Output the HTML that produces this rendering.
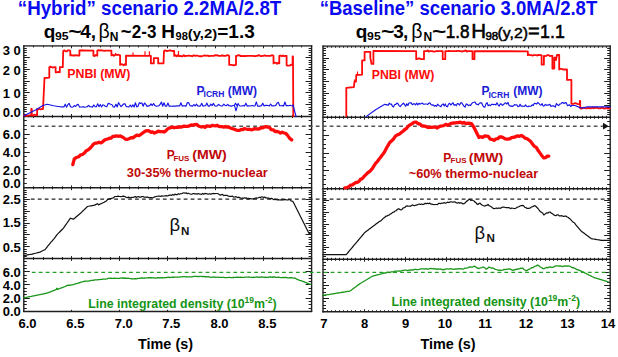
<!DOCTYPE html>
<html><head><meta charset="utf-8"><style>
html,body{margin:0;padding:0;background:#fff;}
svg{display:block;font-family:"Liberation Sans",sans-serif;}
</style></head><body>
<svg width="618" height="357" viewBox="0 0 618 357">
<rect width="618" height="357" fill="#fff"/>
<line x1="23.20" y1="45.90" x2="312.20" y2="45.90" stroke="#555" stroke-width="1.9" />
<line x1="23.20" y1="116.40" x2="312.20" y2="116.40" stroke="#1e1e1e" stroke-width="1.5" />
<line x1="23.20" y1="187.80" x2="312.20" y2="187.80" stroke="#1e1e1e" stroke-width="1.5" />
<line x1="23.20" y1="258.50" x2="312.20" y2="258.50" stroke="#1e1e1e" stroke-width="1.5" />
<line x1="23.20" y1="311.40" x2="312.20" y2="311.40" stroke="#1e1e1e" stroke-width="1.5" />
<line x1="23.80" y1="45.20" x2="23.80" y2="312.10" stroke="#1e1e1e" stroke-width="1.4" />
<line x1="311.60" y1="45.20" x2="311.60" y2="312.10" stroke="#1e1e1e" stroke-width="1.4" />
<line x1="33.50" y1="45.90" x2="33.50" y2="47.40" stroke="#1e1e1e" stroke-width="1" />
<line x1="43.50" y1="45.90" x2="43.50" y2="47.40" stroke="#1e1e1e" stroke-width="1" />
<line x1="52.50" y1="45.90" x2="52.50" y2="47.40" stroke="#1e1e1e" stroke-width="1" />
<line x1="62.50" y1="45.90" x2="62.50" y2="47.40" stroke="#1e1e1e" stroke-width="1" />
<line x1="71.50" y1="45.90" x2="71.50" y2="48.30" stroke="#1e1e1e" stroke-width="1" />
<line x1="81.50" y1="45.90" x2="81.50" y2="47.40" stroke="#1e1e1e" stroke-width="1" />
<line x1="90.50" y1="45.90" x2="90.50" y2="47.40" stroke="#1e1e1e" stroke-width="1" />
<line x1="100.50" y1="45.90" x2="100.50" y2="47.40" stroke="#1e1e1e" stroke-width="1" />
<line x1="110.50" y1="45.90" x2="110.50" y2="47.40" stroke="#1e1e1e" stroke-width="1" />
<line x1="119.50" y1="45.90" x2="119.50" y2="48.30" stroke="#1e1e1e" stroke-width="1" />
<line x1="129.50" y1="45.90" x2="129.50" y2="47.40" stroke="#1e1e1e" stroke-width="1" />
<line x1="138.50" y1="45.90" x2="138.50" y2="47.40" stroke="#1e1e1e" stroke-width="1" />
<line x1="148.50" y1="45.90" x2="148.50" y2="47.40" stroke="#1e1e1e" stroke-width="1" />
<line x1="158.50" y1="45.90" x2="158.50" y2="47.40" stroke="#1e1e1e" stroke-width="1" />
<line x1="167.50" y1="45.90" x2="167.50" y2="48.30" stroke="#1e1e1e" stroke-width="1" />
<line x1="177.50" y1="45.90" x2="177.50" y2="47.40" stroke="#1e1e1e" stroke-width="1" />
<line x1="186.50" y1="45.90" x2="186.50" y2="47.40" stroke="#1e1e1e" stroke-width="1" />
<line x1="196.50" y1="45.90" x2="196.50" y2="47.40" stroke="#1e1e1e" stroke-width="1" />
<line x1="205.50" y1="45.90" x2="205.50" y2="47.40" stroke="#1e1e1e" stroke-width="1" />
<line x1="215.50" y1="45.90" x2="215.50" y2="48.30" stroke="#1e1e1e" stroke-width="1" />
<line x1="225.50" y1="45.90" x2="225.50" y2="47.40" stroke="#1e1e1e" stroke-width="1" />
<line x1="234.50" y1="45.90" x2="234.50" y2="47.40" stroke="#1e1e1e" stroke-width="1" />
<line x1="244.50" y1="45.90" x2="244.50" y2="47.40" stroke="#1e1e1e" stroke-width="1" />
<line x1="253.50" y1="45.90" x2="253.50" y2="47.40" stroke="#1e1e1e" stroke-width="1" />
<line x1="263.50" y1="45.90" x2="263.50" y2="48.30" stroke="#1e1e1e" stroke-width="1" />
<line x1="272.50" y1="45.90" x2="272.50" y2="47.40" stroke="#1e1e1e" stroke-width="1" />
<line x1="282.50" y1="45.90" x2="282.50" y2="47.40" stroke="#1e1e1e" stroke-width="1" />
<line x1="292.50" y1="45.90" x2="292.50" y2="47.40" stroke="#1e1e1e" stroke-width="1" />
<line x1="301.50" y1="45.90" x2="301.50" y2="47.40" stroke="#1e1e1e" stroke-width="1" />
<line x1="33.50" y1="116.40" x2="33.50" y2="117.90" stroke="#1e1e1e" stroke-width="1" />
<line x1="33.50" y1="116.40" x2="33.50" y2="114.90" stroke="#1e1e1e" stroke-width="1" />
<line x1="43.50" y1="116.40" x2="43.50" y2="117.90" stroke="#1e1e1e" stroke-width="1" />
<line x1="43.50" y1="116.40" x2="43.50" y2="114.90" stroke="#1e1e1e" stroke-width="1" />
<line x1="52.50" y1="116.40" x2="52.50" y2="117.90" stroke="#1e1e1e" stroke-width="1" />
<line x1="52.50" y1="116.40" x2="52.50" y2="114.90" stroke="#1e1e1e" stroke-width="1" />
<line x1="62.50" y1="116.40" x2="62.50" y2="117.90" stroke="#1e1e1e" stroke-width="1" />
<line x1="62.50" y1="116.40" x2="62.50" y2="114.90" stroke="#1e1e1e" stroke-width="1" />
<line x1="71.50" y1="116.40" x2="71.50" y2="118.80" stroke="#1e1e1e" stroke-width="1" />
<line x1="71.50" y1="116.40" x2="71.50" y2="114.00" stroke="#1e1e1e" stroke-width="1" />
<line x1="81.50" y1="116.40" x2="81.50" y2="117.90" stroke="#1e1e1e" stroke-width="1" />
<line x1="81.50" y1="116.40" x2="81.50" y2="114.90" stroke="#1e1e1e" stroke-width="1" />
<line x1="90.50" y1="116.40" x2="90.50" y2="117.90" stroke="#1e1e1e" stroke-width="1" />
<line x1="90.50" y1="116.40" x2="90.50" y2="114.90" stroke="#1e1e1e" stroke-width="1" />
<line x1="100.50" y1="116.40" x2="100.50" y2="117.90" stroke="#1e1e1e" stroke-width="1" />
<line x1="100.50" y1="116.40" x2="100.50" y2="114.90" stroke="#1e1e1e" stroke-width="1" />
<line x1="110.50" y1="116.40" x2="110.50" y2="117.90" stroke="#1e1e1e" stroke-width="1" />
<line x1="110.50" y1="116.40" x2="110.50" y2="114.90" stroke="#1e1e1e" stroke-width="1" />
<line x1="119.50" y1="116.40" x2="119.50" y2="118.80" stroke="#1e1e1e" stroke-width="1" />
<line x1="119.50" y1="116.40" x2="119.50" y2="114.00" stroke="#1e1e1e" stroke-width="1" />
<line x1="129.50" y1="116.40" x2="129.50" y2="117.90" stroke="#1e1e1e" stroke-width="1" />
<line x1="129.50" y1="116.40" x2="129.50" y2="114.90" stroke="#1e1e1e" stroke-width="1" />
<line x1="138.50" y1="116.40" x2="138.50" y2="117.90" stroke="#1e1e1e" stroke-width="1" />
<line x1="138.50" y1="116.40" x2="138.50" y2="114.90" stroke="#1e1e1e" stroke-width="1" />
<line x1="148.50" y1="116.40" x2="148.50" y2="117.90" stroke="#1e1e1e" stroke-width="1" />
<line x1="148.50" y1="116.40" x2="148.50" y2="114.90" stroke="#1e1e1e" stroke-width="1" />
<line x1="158.50" y1="116.40" x2="158.50" y2="117.90" stroke="#1e1e1e" stroke-width="1" />
<line x1="158.50" y1="116.40" x2="158.50" y2="114.90" stroke="#1e1e1e" stroke-width="1" />
<line x1="167.50" y1="116.40" x2="167.50" y2="118.80" stroke="#1e1e1e" stroke-width="1" />
<line x1="167.50" y1="116.40" x2="167.50" y2="114.00" stroke="#1e1e1e" stroke-width="1" />
<line x1="177.50" y1="116.40" x2="177.50" y2="117.90" stroke="#1e1e1e" stroke-width="1" />
<line x1="177.50" y1="116.40" x2="177.50" y2="114.90" stroke="#1e1e1e" stroke-width="1" />
<line x1="186.50" y1="116.40" x2="186.50" y2="117.90" stroke="#1e1e1e" stroke-width="1" />
<line x1="186.50" y1="116.40" x2="186.50" y2="114.90" stroke="#1e1e1e" stroke-width="1" />
<line x1="196.50" y1="116.40" x2="196.50" y2="117.90" stroke="#1e1e1e" stroke-width="1" />
<line x1="196.50" y1="116.40" x2="196.50" y2="114.90" stroke="#1e1e1e" stroke-width="1" />
<line x1="205.50" y1="116.40" x2="205.50" y2="117.90" stroke="#1e1e1e" stroke-width="1" />
<line x1="205.50" y1="116.40" x2="205.50" y2="114.90" stroke="#1e1e1e" stroke-width="1" />
<line x1="215.50" y1="116.40" x2="215.50" y2="118.80" stroke="#1e1e1e" stroke-width="1" />
<line x1="215.50" y1="116.40" x2="215.50" y2="114.00" stroke="#1e1e1e" stroke-width="1" />
<line x1="225.50" y1="116.40" x2="225.50" y2="117.90" stroke="#1e1e1e" stroke-width="1" />
<line x1="225.50" y1="116.40" x2="225.50" y2="114.90" stroke="#1e1e1e" stroke-width="1" />
<line x1="234.50" y1="116.40" x2="234.50" y2="117.90" stroke="#1e1e1e" stroke-width="1" />
<line x1="234.50" y1="116.40" x2="234.50" y2="114.90" stroke="#1e1e1e" stroke-width="1" />
<line x1="244.50" y1="116.40" x2="244.50" y2="117.90" stroke="#1e1e1e" stroke-width="1" />
<line x1="244.50" y1="116.40" x2="244.50" y2="114.90" stroke="#1e1e1e" stroke-width="1" />
<line x1="253.50" y1="116.40" x2="253.50" y2="117.90" stroke="#1e1e1e" stroke-width="1" />
<line x1="253.50" y1="116.40" x2="253.50" y2="114.90" stroke="#1e1e1e" stroke-width="1" />
<line x1="263.50" y1="116.40" x2="263.50" y2="118.80" stroke="#1e1e1e" stroke-width="1" />
<line x1="263.50" y1="116.40" x2="263.50" y2="114.00" stroke="#1e1e1e" stroke-width="1" />
<line x1="272.50" y1="116.40" x2="272.50" y2="117.90" stroke="#1e1e1e" stroke-width="1" />
<line x1="272.50" y1="116.40" x2="272.50" y2="114.90" stroke="#1e1e1e" stroke-width="1" />
<line x1="282.50" y1="116.40" x2="282.50" y2="117.90" stroke="#1e1e1e" stroke-width="1" />
<line x1="282.50" y1="116.40" x2="282.50" y2="114.90" stroke="#1e1e1e" stroke-width="1" />
<line x1="292.50" y1="116.40" x2="292.50" y2="117.90" stroke="#1e1e1e" stroke-width="1" />
<line x1="292.50" y1="116.40" x2="292.50" y2="114.90" stroke="#1e1e1e" stroke-width="1" />
<line x1="301.50" y1="116.40" x2="301.50" y2="117.90" stroke="#1e1e1e" stroke-width="1" />
<line x1="301.50" y1="116.40" x2="301.50" y2="114.90" stroke="#1e1e1e" stroke-width="1" />
<line x1="33.50" y1="187.80" x2="33.50" y2="189.30" stroke="#1e1e1e" stroke-width="1" />
<line x1="33.50" y1="187.80" x2="33.50" y2="186.30" stroke="#1e1e1e" stroke-width="1" />
<line x1="43.50" y1="187.80" x2="43.50" y2="189.30" stroke="#1e1e1e" stroke-width="1" />
<line x1="43.50" y1="187.80" x2="43.50" y2="186.30" stroke="#1e1e1e" stroke-width="1" />
<line x1="52.50" y1="187.80" x2="52.50" y2="189.30" stroke="#1e1e1e" stroke-width="1" />
<line x1="52.50" y1="187.80" x2="52.50" y2="186.30" stroke="#1e1e1e" stroke-width="1" />
<line x1="62.50" y1="187.80" x2="62.50" y2="189.30" stroke="#1e1e1e" stroke-width="1" />
<line x1="62.50" y1="187.80" x2="62.50" y2="186.30" stroke="#1e1e1e" stroke-width="1" />
<line x1="71.50" y1="187.80" x2="71.50" y2="190.20" stroke="#1e1e1e" stroke-width="1" />
<line x1="71.50" y1="187.80" x2="71.50" y2="185.40" stroke="#1e1e1e" stroke-width="1" />
<line x1="81.50" y1="187.80" x2="81.50" y2="189.30" stroke="#1e1e1e" stroke-width="1" />
<line x1="81.50" y1="187.80" x2="81.50" y2="186.30" stroke="#1e1e1e" stroke-width="1" />
<line x1="90.50" y1="187.80" x2="90.50" y2="189.30" stroke="#1e1e1e" stroke-width="1" />
<line x1="90.50" y1="187.80" x2="90.50" y2="186.30" stroke="#1e1e1e" stroke-width="1" />
<line x1="100.50" y1="187.80" x2="100.50" y2="189.30" stroke="#1e1e1e" stroke-width="1" />
<line x1="100.50" y1="187.80" x2="100.50" y2="186.30" stroke="#1e1e1e" stroke-width="1" />
<line x1="110.50" y1="187.80" x2="110.50" y2="189.30" stroke="#1e1e1e" stroke-width="1" />
<line x1="110.50" y1="187.80" x2="110.50" y2="186.30" stroke="#1e1e1e" stroke-width="1" />
<line x1="119.50" y1="187.80" x2="119.50" y2="190.20" stroke="#1e1e1e" stroke-width="1" />
<line x1="119.50" y1="187.80" x2="119.50" y2="185.40" stroke="#1e1e1e" stroke-width="1" />
<line x1="129.50" y1="187.80" x2="129.50" y2="189.30" stroke="#1e1e1e" stroke-width="1" />
<line x1="129.50" y1="187.80" x2="129.50" y2="186.30" stroke="#1e1e1e" stroke-width="1" />
<line x1="138.50" y1="187.80" x2="138.50" y2="189.30" stroke="#1e1e1e" stroke-width="1" />
<line x1="138.50" y1="187.80" x2="138.50" y2="186.30" stroke="#1e1e1e" stroke-width="1" />
<line x1="148.50" y1="187.80" x2="148.50" y2="189.30" stroke="#1e1e1e" stroke-width="1" />
<line x1="148.50" y1="187.80" x2="148.50" y2="186.30" stroke="#1e1e1e" stroke-width="1" />
<line x1="158.50" y1="187.80" x2="158.50" y2="189.30" stroke="#1e1e1e" stroke-width="1" />
<line x1="158.50" y1="187.80" x2="158.50" y2="186.30" stroke="#1e1e1e" stroke-width="1" />
<line x1="167.50" y1="187.80" x2="167.50" y2="190.20" stroke="#1e1e1e" stroke-width="1" />
<line x1="167.50" y1="187.80" x2="167.50" y2="185.40" stroke="#1e1e1e" stroke-width="1" />
<line x1="177.50" y1="187.80" x2="177.50" y2="189.30" stroke="#1e1e1e" stroke-width="1" />
<line x1="177.50" y1="187.80" x2="177.50" y2="186.30" stroke="#1e1e1e" stroke-width="1" />
<line x1="186.50" y1="187.80" x2="186.50" y2="189.30" stroke="#1e1e1e" stroke-width="1" />
<line x1="186.50" y1="187.80" x2="186.50" y2="186.30" stroke="#1e1e1e" stroke-width="1" />
<line x1="196.50" y1="187.80" x2="196.50" y2="189.30" stroke="#1e1e1e" stroke-width="1" />
<line x1="196.50" y1="187.80" x2="196.50" y2="186.30" stroke="#1e1e1e" stroke-width="1" />
<line x1="205.50" y1="187.80" x2="205.50" y2="189.30" stroke="#1e1e1e" stroke-width="1" />
<line x1="205.50" y1="187.80" x2="205.50" y2="186.30" stroke="#1e1e1e" stroke-width="1" />
<line x1="215.50" y1="187.80" x2="215.50" y2="190.20" stroke="#1e1e1e" stroke-width="1" />
<line x1="215.50" y1="187.80" x2="215.50" y2="185.40" stroke="#1e1e1e" stroke-width="1" />
<line x1="225.50" y1="187.80" x2="225.50" y2="189.30" stroke="#1e1e1e" stroke-width="1" />
<line x1="225.50" y1="187.80" x2="225.50" y2="186.30" stroke="#1e1e1e" stroke-width="1" />
<line x1="234.50" y1="187.80" x2="234.50" y2="189.30" stroke="#1e1e1e" stroke-width="1" />
<line x1="234.50" y1="187.80" x2="234.50" y2="186.30" stroke="#1e1e1e" stroke-width="1" />
<line x1="244.50" y1="187.80" x2="244.50" y2="189.30" stroke="#1e1e1e" stroke-width="1" />
<line x1="244.50" y1="187.80" x2="244.50" y2="186.30" stroke="#1e1e1e" stroke-width="1" />
<line x1="253.50" y1="187.80" x2="253.50" y2="189.30" stroke="#1e1e1e" stroke-width="1" />
<line x1="253.50" y1="187.80" x2="253.50" y2="186.30" stroke="#1e1e1e" stroke-width="1" />
<line x1="263.50" y1="187.80" x2="263.50" y2="190.20" stroke="#1e1e1e" stroke-width="1" />
<line x1="263.50" y1="187.80" x2="263.50" y2="185.40" stroke="#1e1e1e" stroke-width="1" />
<line x1="272.50" y1="187.80" x2="272.50" y2="189.30" stroke="#1e1e1e" stroke-width="1" />
<line x1="272.50" y1="187.80" x2="272.50" y2="186.30" stroke="#1e1e1e" stroke-width="1" />
<line x1="282.50" y1="187.80" x2="282.50" y2="189.30" stroke="#1e1e1e" stroke-width="1" />
<line x1="282.50" y1="187.80" x2="282.50" y2="186.30" stroke="#1e1e1e" stroke-width="1" />
<line x1="292.50" y1="187.80" x2="292.50" y2="189.30" stroke="#1e1e1e" stroke-width="1" />
<line x1="292.50" y1="187.80" x2="292.50" y2="186.30" stroke="#1e1e1e" stroke-width="1" />
<line x1="301.50" y1="187.80" x2="301.50" y2="189.30" stroke="#1e1e1e" stroke-width="1" />
<line x1="301.50" y1="187.80" x2="301.50" y2="186.30" stroke="#1e1e1e" stroke-width="1" />
<line x1="33.50" y1="258.50" x2="33.50" y2="260.00" stroke="#1e1e1e" stroke-width="1" />
<line x1="33.50" y1="258.50" x2="33.50" y2="257.00" stroke="#1e1e1e" stroke-width="1" />
<line x1="43.50" y1="258.50" x2="43.50" y2="260.00" stroke="#1e1e1e" stroke-width="1" />
<line x1="43.50" y1="258.50" x2="43.50" y2="257.00" stroke="#1e1e1e" stroke-width="1" />
<line x1="52.50" y1="258.50" x2="52.50" y2="260.00" stroke="#1e1e1e" stroke-width="1" />
<line x1="52.50" y1="258.50" x2="52.50" y2="257.00" stroke="#1e1e1e" stroke-width="1" />
<line x1="62.50" y1="258.50" x2="62.50" y2="260.00" stroke="#1e1e1e" stroke-width="1" />
<line x1="62.50" y1="258.50" x2="62.50" y2="257.00" stroke="#1e1e1e" stroke-width="1" />
<line x1="71.50" y1="258.50" x2="71.50" y2="260.90" stroke="#1e1e1e" stroke-width="1" />
<line x1="71.50" y1="258.50" x2="71.50" y2="256.10" stroke="#1e1e1e" stroke-width="1" />
<line x1="81.50" y1="258.50" x2="81.50" y2="260.00" stroke="#1e1e1e" stroke-width="1" />
<line x1="81.50" y1="258.50" x2="81.50" y2="257.00" stroke="#1e1e1e" stroke-width="1" />
<line x1="90.50" y1="258.50" x2="90.50" y2="260.00" stroke="#1e1e1e" stroke-width="1" />
<line x1="90.50" y1="258.50" x2="90.50" y2="257.00" stroke="#1e1e1e" stroke-width="1" />
<line x1="100.50" y1="258.50" x2="100.50" y2="260.00" stroke="#1e1e1e" stroke-width="1" />
<line x1="100.50" y1="258.50" x2="100.50" y2="257.00" stroke="#1e1e1e" stroke-width="1" />
<line x1="110.50" y1="258.50" x2="110.50" y2="260.00" stroke="#1e1e1e" stroke-width="1" />
<line x1="110.50" y1="258.50" x2="110.50" y2="257.00" stroke="#1e1e1e" stroke-width="1" />
<line x1="119.50" y1="258.50" x2="119.50" y2="260.90" stroke="#1e1e1e" stroke-width="1" />
<line x1="119.50" y1="258.50" x2="119.50" y2="256.10" stroke="#1e1e1e" stroke-width="1" />
<line x1="129.50" y1="258.50" x2="129.50" y2="260.00" stroke="#1e1e1e" stroke-width="1" />
<line x1="129.50" y1="258.50" x2="129.50" y2="257.00" stroke="#1e1e1e" stroke-width="1" />
<line x1="138.50" y1="258.50" x2="138.50" y2="260.00" stroke="#1e1e1e" stroke-width="1" />
<line x1="138.50" y1="258.50" x2="138.50" y2="257.00" stroke="#1e1e1e" stroke-width="1" />
<line x1="148.50" y1="258.50" x2="148.50" y2="260.00" stroke="#1e1e1e" stroke-width="1" />
<line x1="148.50" y1="258.50" x2="148.50" y2="257.00" stroke="#1e1e1e" stroke-width="1" />
<line x1="158.50" y1="258.50" x2="158.50" y2="260.00" stroke="#1e1e1e" stroke-width="1" />
<line x1="158.50" y1="258.50" x2="158.50" y2="257.00" stroke="#1e1e1e" stroke-width="1" />
<line x1="167.50" y1="258.50" x2="167.50" y2="260.90" stroke="#1e1e1e" stroke-width="1" />
<line x1="167.50" y1="258.50" x2="167.50" y2="256.10" stroke="#1e1e1e" stroke-width="1" />
<line x1="177.50" y1="258.50" x2="177.50" y2="260.00" stroke="#1e1e1e" stroke-width="1" />
<line x1="177.50" y1="258.50" x2="177.50" y2="257.00" stroke="#1e1e1e" stroke-width="1" />
<line x1="186.50" y1="258.50" x2="186.50" y2="260.00" stroke="#1e1e1e" stroke-width="1" />
<line x1="186.50" y1="258.50" x2="186.50" y2="257.00" stroke="#1e1e1e" stroke-width="1" />
<line x1="196.50" y1="258.50" x2="196.50" y2="260.00" stroke="#1e1e1e" stroke-width="1" />
<line x1="196.50" y1="258.50" x2="196.50" y2="257.00" stroke="#1e1e1e" stroke-width="1" />
<line x1="205.50" y1="258.50" x2="205.50" y2="260.00" stroke="#1e1e1e" stroke-width="1" />
<line x1="205.50" y1="258.50" x2="205.50" y2="257.00" stroke="#1e1e1e" stroke-width="1" />
<line x1="215.50" y1="258.50" x2="215.50" y2="260.90" stroke="#1e1e1e" stroke-width="1" />
<line x1="215.50" y1="258.50" x2="215.50" y2="256.10" stroke="#1e1e1e" stroke-width="1" />
<line x1="225.50" y1="258.50" x2="225.50" y2="260.00" stroke="#1e1e1e" stroke-width="1" />
<line x1="225.50" y1="258.50" x2="225.50" y2="257.00" stroke="#1e1e1e" stroke-width="1" />
<line x1="234.50" y1="258.50" x2="234.50" y2="260.00" stroke="#1e1e1e" stroke-width="1" />
<line x1="234.50" y1="258.50" x2="234.50" y2="257.00" stroke="#1e1e1e" stroke-width="1" />
<line x1="244.50" y1="258.50" x2="244.50" y2="260.00" stroke="#1e1e1e" stroke-width="1" />
<line x1="244.50" y1="258.50" x2="244.50" y2="257.00" stroke="#1e1e1e" stroke-width="1" />
<line x1="253.50" y1="258.50" x2="253.50" y2="260.00" stroke="#1e1e1e" stroke-width="1" />
<line x1="253.50" y1="258.50" x2="253.50" y2="257.00" stroke="#1e1e1e" stroke-width="1" />
<line x1="263.50" y1="258.50" x2="263.50" y2="260.90" stroke="#1e1e1e" stroke-width="1" />
<line x1="263.50" y1="258.50" x2="263.50" y2="256.10" stroke="#1e1e1e" stroke-width="1" />
<line x1="272.50" y1="258.50" x2="272.50" y2="260.00" stroke="#1e1e1e" stroke-width="1" />
<line x1="272.50" y1="258.50" x2="272.50" y2="257.00" stroke="#1e1e1e" stroke-width="1" />
<line x1="282.50" y1="258.50" x2="282.50" y2="260.00" stroke="#1e1e1e" stroke-width="1" />
<line x1="282.50" y1="258.50" x2="282.50" y2="257.00" stroke="#1e1e1e" stroke-width="1" />
<line x1="292.50" y1="258.50" x2="292.50" y2="260.00" stroke="#1e1e1e" stroke-width="1" />
<line x1="292.50" y1="258.50" x2="292.50" y2="257.00" stroke="#1e1e1e" stroke-width="1" />
<line x1="301.50" y1="258.50" x2="301.50" y2="260.00" stroke="#1e1e1e" stroke-width="1" />
<line x1="301.50" y1="258.50" x2="301.50" y2="257.00" stroke="#1e1e1e" stroke-width="1" />
<line x1="71.50" y1="311.40" x2="71.50" y2="309.80" stroke="#1e1e1e" stroke-width="1" />
<line x1="119.50" y1="311.40" x2="119.50" y2="309.80" stroke="#1e1e1e" stroke-width="1" />
<line x1="167.50" y1="311.40" x2="167.50" y2="309.80" stroke="#1e1e1e" stroke-width="1" />
<line x1="215.50" y1="311.40" x2="215.50" y2="309.80" stroke="#1e1e1e" stroke-width="1" />
<line x1="263.50" y1="311.40" x2="263.50" y2="309.80" stroke="#1e1e1e" stroke-width="1" />
<line x1="322.40" y1="46.20" x2="610.80" y2="46.20" stroke="#555" stroke-width="1.9" />
<line x1="322.40" y1="117.30" x2="610.80" y2="117.30" stroke="#1e1e1e" stroke-width="1.5" />
<line x1="322.40" y1="188.70" x2="610.80" y2="188.70" stroke="#1e1e1e" stroke-width="1.5" />
<line x1="322.40" y1="259.30" x2="610.80" y2="259.30" stroke="#1e1e1e" stroke-width="1.5" />
<line x1="322.40" y1="311.70" x2="610.80" y2="311.70" stroke="#1e1e1e" stroke-width="1.5" />
<line x1="323.00" y1="45.50" x2="323.00" y2="312.40" stroke="#1e1e1e" stroke-width="1.4" />
<line x1="610.20" y1="45.50" x2="610.20" y2="312.40" stroke="#1e1e1e" stroke-width="1.4" />
<line x1="327.50" y1="46.20" x2="327.50" y2="47.70" stroke="#1e1e1e" stroke-width="1" />
<line x1="331.50" y1="46.20" x2="331.50" y2="47.70" stroke="#1e1e1e" stroke-width="1" />
<line x1="335.50" y1="46.20" x2="335.50" y2="47.70" stroke="#1e1e1e" stroke-width="1" />
<line x1="339.50" y1="46.20" x2="339.50" y2="47.70" stroke="#1e1e1e" stroke-width="1" />
<line x1="343.50" y1="46.20" x2="343.50" y2="47.70" stroke="#1e1e1e" stroke-width="1" />
<line x1="347.50" y1="46.20" x2="347.50" y2="47.70" stroke="#1e1e1e" stroke-width="1" />
<line x1="351.50" y1="46.20" x2="351.50" y2="47.70" stroke="#1e1e1e" stroke-width="1" />
<line x1="355.50" y1="46.20" x2="355.50" y2="47.70" stroke="#1e1e1e" stroke-width="1" />
<line x1="360.50" y1="46.20" x2="360.50" y2="47.70" stroke="#1e1e1e" stroke-width="1" />
<line x1="364.50" y1="46.20" x2="364.50" y2="48.60" stroke="#1e1e1e" stroke-width="1" />
<line x1="368.50" y1="46.20" x2="368.50" y2="47.70" stroke="#1e1e1e" stroke-width="1" />
<line x1="372.50" y1="46.20" x2="372.50" y2="47.70" stroke="#1e1e1e" stroke-width="1" />
<line x1="376.50" y1="46.20" x2="376.50" y2="47.70" stroke="#1e1e1e" stroke-width="1" />
<line x1="380.50" y1="46.20" x2="380.50" y2="47.70" stroke="#1e1e1e" stroke-width="1" />
<line x1="384.50" y1="46.20" x2="384.50" y2="47.70" stroke="#1e1e1e" stroke-width="1" />
<line x1="388.50" y1="46.20" x2="388.50" y2="47.70" stroke="#1e1e1e" stroke-width="1" />
<line x1="392.50" y1="46.20" x2="392.50" y2="47.70" stroke="#1e1e1e" stroke-width="1" />
<line x1="397.50" y1="46.20" x2="397.50" y2="47.70" stroke="#1e1e1e" stroke-width="1" />
<line x1="401.50" y1="46.20" x2="401.50" y2="47.70" stroke="#1e1e1e" stroke-width="1" />
<line x1="405.50" y1="46.20" x2="405.50" y2="48.60" stroke="#1e1e1e" stroke-width="1" />
<line x1="409.50" y1="46.20" x2="409.50" y2="47.70" stroke="#1e1e1e" stroke-width="1" />
<line x1="413.50" y1="46.20" x2="413.50" y2="47.70" stroke="#1e1e1e" stroke-width="1" />
<line x1="417.50" y1="46.20" x2="417.50" y2="47.70" stroke="#1e1e1e" stroke-width="1" />
<line x1="421.50" y1="46.20" x2="421.50" y2="47.70" stroke="#1e1e1e" stroke-width="1" />
<line x1="425.50" y1="46.20" x2="425.50" y2="47.70" stroke="#1e1e1e" stroke-width="1" />
<line x1="429.50" y1="46.20" x2="429.50" y2="47.70" stroke="#1e1e1e" stroke-width="1" />
<line x1="434.50" y1="46.20" x2="434.50" y2="47.70" stroke="#1e1e1e" stroke-width="1" />
<line x1="438.50" y1="46.20" x2="438.50" y2="47.70" stroke="#1e1e1e" stroke-width="1" />
<line x1="442.50" y1="46.20" x2="442.50" y2="47.70" stroke="#1e1e1e" stroke-width="1" />
<line x1="446.50" y1="46.20" x2="446.50" y2="48.60" stroke="#1e1e1e" stroke-width="1" />
<line x1="450.50" y1="46.20" x2="450.50" y2="47.70" stroke="#1e1e1e" stroke-width="1" />
<line x1="454.50" y1="46.20" x2="454.50" y2="47.70" stroke="#1e1e1e" stroke-width="1" />
<line x1="458.50" y1="46.20" x2="458.50" y2="47.70" stroke="#1e1e1e" stroke-width="1" />
<line x1="462.50" y1="46.20" x2="462.50" y2="47.70" stroke="#1e1e1e" stroke-width="1" />
<line x1="466.50" y1="46.20" x2="466.50" y2="47.70" stroke="#1e1e1e" stroke-width="1" />
<line x1="471.50" y1="46.20" x2="471.50" y2="47.70" stroke="#1e1e1e" stroke-width="1" />
<line x1="475.50" y1="46.20" x2="475.50" y2="47.70" stroke="#1e1e1e" stroke-width="1" />
<line x1="479.50" y1="46.20" x2="479.50" y2="47.70" stroke="#1e1e1e" stroke-width="1" />
<line x1="483.50" y1="46.20" x2="483.50" y2="47.70" stroke="#1e1e1e" stroke-width="1" />
<line x1="487.50" y1="46.20" x2="487.50" y2="48.60" stroke="#1e1e1e" stroke-width="1" />
<line x1="491.50" y1="46.20" x2="491.50" y2="47.70" stroke="#1e1e1e" stroke-width="1" />
<line x1="495.50" y1="46.20" x2="495.50" y2="47.70" stroke="#1e1e1e" stroke-width="1" />
<line x1="499.50" y1="46.20" x2="499.50" y2="47.70" stroke="#1e1e1e" stroke-width="1" />
<line x1="503.50" y1="46.20" x2="503.50" y2="47.70" stroke="#1e1e1e" stroke-width="1" />
<line x1="508.50" y1="46.20" x2="508.50" y2="47.70" stroke="#1e1e1e" stroke-width="1" />
<line x1="512.50" y1="46.20" x2="512.50" y2="47.70" stroke="#1e1e1e" stroke-width="1" />
<line x1="516.50" y1="46.20" x2="516.50" y2="47.70" stroke="#1e1e1e" stroke-width="1" />
<line x1="520.50" y1="46.20" x2="520.50" y2="47.70" stroke="#1e1e1e" stroke-width="1" />
<line x1="524.50" y1="46.20" x2="524.50" y2="47.70" stroke="#1e1e1e" stroke-width="1" />
<line x1="528.50" y1="46.20" x2="528.50" y2="48.60" stroke="#1e1e1e" stroke-width="1" />
<line x1="532.50" y1="46.20" x2="532.50" y2="47.70" stroke="#1e1e1e" stroke-width="1" />
<line x1="536.50" y1="46.20" x2="536.50" y2="47.70" stroke="#1e1e1e" stroke-width="1" />
<line x1="540.50" y1="46.20" x2="540.50" y2="47.70" stroke="#1e1e1e" stroke-width="1" />
<line x1="545.50" y1="46.20" x2="545.50" y2="47.70" stroke="#1e1e1e" stroke-width="1" />
<line x1="549.50" y1="46.20" x2="549.50" y2="47.70" stroke="#1e1e1e" stroke-width="1" />
<line x1="553.50" y1="46.20" x2="553.50" y2="47.70" stroke="#1e1e1e" stroke-width="1" />
<line x1="557.50" y1="46.20" x2="557.50" y2="47.70" stroke="#1e1e1e" stroke-width="1" />
<line x1="561.50" y1="46.20" x2="561.50" y2="47.70" stroke="#1e1e1e" stroke-width="1" />
<line x1="565.50" y1="46.20" x2="565.50" y2="47.70" stroke="#1e1e1e" stroke-width="1" />
<line x1="569.50" y1="46.20" x2="569.50" y2="48.60" stroke="#1e1e1e" stroke-width="1" />
<line x1="573.50" y1="46.20" x2="573.50" y2="47.70" stroke="#1e1e1e" stroke-width="1" />
<line x1="577.50" y1="46.20" x2="577.50" y2="47.70" stroke="#1e1e1e" stroke-width="1" />
<line x1="582.50" y1="46.20" x2="582.50" y2="47.70" stroke="#1e1e1e" stroke-width="1" />
<line x1="586.50" y1="46.20" x2="586.50" y2="47.70" stroke="#1e1e1e" stroke-width="1" />
<line x1="590.50" y1="46.20" x2="590.50" y2="47.70" stroke="#1e1e1e" stroke-width="1" />
<line x1="594.50" y1="46.20" x2="594.50" y2="47.70" stroke="#1e1e1e" stroke-width="1" />
<line x1="598.50" y1="46.20" x2="598.50" y2="47.70" stroke="#1e1e1e" stroke-width="1" />
<line x1="602.50" y1="46.20" x2="602.50" y2="47.70" stroke="#1e1e1e" stroke-width="1" />
<line x1="606.50" y1="46.20" x2="606.50" y2="47.70" stroke="#1e1e1e" stroke-width="1" />
<line x1="327.50" y1="117.30" x2="327.50" y2="118.80" stroke="#1e1e1e" stroke-width="1" />
<line x1="327.50" y1="117.30" x2="327.50" y2="115.80" stroke="#1e1e1e" stroke-width="1" />
<line x1="331.50" y1="117.30" x2="331.50" y2="118.80" stroke="#1e1e1e" stroke-width="1" />
<line x1="331.50" y1="117.30" x2="331.50" y2="115.80" stroke="#1e1e1e" stroke-width="1" />
<line x1="335.50" y1="117.30" x2="335.50" y2="118.80" stroke="#1e1e1e" stroke-width="1" />
<line x1="335.50" y1="117.30" x2="335.50" y2="115.80" stroke="#1e1e1e" stroke-width="1" />
<line x1="339.50" y1="117.30" x2="339.50" y2="118.80" stroke="#1e1e1e" stroke-width="1" />
<line x1="339.50" y1="117.30" x2="339.50" y2="115.80" stroke="#1e1e1e" stroke-width="1" />
<line x1="343.50" y1="117.30" x2="343.50" y2="118.80" stroke="#1e1e1e" stroke-width="1" />
<line x1="343.50" y1="117.30" x2="343.50" y2="115.80" stroke="#1e1e1e" stroke-width="1" />
<line x1="347.50" y1="117.30" x2="347.50" y2="118.80" stroke="#1e1e1e" stroke-width="1" />
<line x1="347.50" y1="117.30" x2="347.50" y2="115.80" stroke="#1e1e1e" stroke-width="1" />
<line x1="351.50" y1="117.30" x2="351.50" y2="118.80" stroke="#1e1e1e" stroke-width="1" />
<line x1="351.50" y1="117.30" x2="351.50" y2="115.80" stroke="#1e1e1e" stroke-width="1" />
<line x1="355.50" y1="117.30" x2="355.50" y2="118.80" stroke="#1e1e1e" stroke-width="1" />
<line x1="355.50" y1="117.30" x2="355.50" y2="115.80" stroke="#1e1e1e" stroke-width="1" />
<line x1="360.50" y1="117.30" x2="360.50" y2="118.80" stroke="#1e1e1e" stroke-width="1" />
<line x1="360.50" y1="117.30" x2="360.50" y2="115.80" stroke="#1e1e1e" stroke-width="1" />
<line x1="364.50" y1="117.30" x2="364.50" y2="119.70" stroke="#1e1e1e" stroke-width="1" />
<line x1="364.50" y1="117.30" x2="364.50" y2="114.90" stroke="#1e1e1e" stroke-width="1" />
<line x1="368.50" y1="117.30" x2="368.50" y2="118.80" stroke="#1e1e1e" stroke-width="1" />
<line x1="368.50" y1="117.30" x2="368.50" y2="115.80" stroke="#1e1e1e" stroke-width="1" />
<line x1="372.50" y1="117.30" x2="372.50" y2="118.80" stroke="#1e1e1e" stroke-width="1" />
<line x1="372.50" y1="117.30" x2="372.50" y2="115.80" stroke="#1e1e1e" stroke-width="1" />
<line x1="376.50" y1="117.30" x2="376.50" y2="118.80" stroke="#1e1e1e" stroke-width="1" />
<line x1="376.50" y1="117.30" x2="376.50" y2="115.80" stroke="#1e1e1e" stroke-width="1" />
<line x1="380.50" y1="117.30" x2="380.50" y2="118.80" stroke="#1e1e1e" stroke-width="1" />
<line x1="380.50" y1="117.30" x2="380.50" y2="115.80" stroke="#1e1e1e" stroke-width="1" />
<line x1="384.50" y1="117.30" x2="384.50" y2="118.80" stroke="#1e1e1e" stroke-width="1" />
<line x1="384.50" y1="117.30" x2="384.50" y2="115.80" stroke="#1e1e1e" stroke-width="1" />
<line x1="388.50" y1="117.30" x2="388.50" y2="118.80" stroke="#1e1e1e" stroke-width="1" />
<line x1="388.50" y1="117.30" x2="388.50" y2="115.80" stroke="#1e1e1e" stroke-width="1" />
<line x1="392.50" y1="117.30" x2="392.50" y2="118.80" stroke="#1e1e1e" stroke-width="1" />
<line x1="392.50" y1="117.30" x2="392.50" y2="115.80" stroke="#1e1e1e" stroke-width="1" />
<line x1="397.50" y1="117.30" x2="397.50" y2="118.80" stroke="#1e1e1e" stroke-width="1" />
<line x1="397.50" y1="117.30" x2="397.50" y2="115.80" stroke="#1e1e1e" stroke-width="1" />
<line x1="401.50" y1="117.30" x2="401.50" y2="118.80" stroke="#1e1e1e" stroke-width="1" />
<line x1="401.50" y1="117.30" x2="401.50" y2="115.80" stroke="#1e1e1e" stroke-width="1" />
<line x1="405.50" y1="117.30" x2="405.50" y2="119.70" stroke="#1e1e1e" stroke-width="1" />
<line x1="405.50" y1="117.30" x2="405.50" y2="114.90" stroke="#1e1e1e" stroke-width="1" />
<line x1="409.50" y1="117.30" x2="409.50" y2="118.80" stroke="#1e1e1e" stroke-width="1" />
<line x1="409.50" y1="117.30" x2="409.50" y2="115.80" stroke="#1e1e1e" stroke-width="1" />
<line x1="413.50" y1="117.30" x2="413.50" y2="118.80" stroke="#1e1e1e" stroke-width="1" />
<line x1="413.50" y1="117.30" x2="413.50" y2="115.80" stroke="#1e1e1e" stroke-width="1" />
<line x1="417.50" y1="117.30" x2="417.50" y2="118.80" stroke="#1e1e1e" stroke-width="1" />
<line x1="417.50" y1="117.30" x2="417.50" y2="115.80" stroke="#1e1e1e" stroke-width="1" />
<line x1="421.50" y1="117.30" x2="421.50" y2="118.80" stroke="#1e1e1e" stroke-width="1" />
<line x1="421.50" y1="117.30" x2="421.50" y2="115.80" stroke="#1e1e1e" stroke-width="1" />
<line x1="425.50" y1="117.30" x2="425.50" y2="118.80" stroke="#1e1e1e" stroke-width="1" />
<line x1="425.50" y1="117.30" x2="425.50" y2="115.80" stroke="#1e1e1e" stroke-width="1" />
<line x1="429.50" y1="117.30" x2="429.50" y2="118.80" stroke="#1e1e1e" stroke-width="1" />
<line x1="429.50" y1="117.30" x2="429.50" y2="115.80" stroke="#1e1e1e" stroke-width="1" />
<line x1="434.50" y1="117.30" x2="434.50" y2="118.80" stroke="#1e1e1e" stroke-width="1" />
<line x1="434.50" y1="117.30" x2="434.50" y2="115.80" stroke="#1e1e1e" stroke-width="1" />
<line x1="438.50" y1="117.30" x2="438.50" y2="118.80" stroke="#1e1e1e" stroke-width="1" />
<line x1="438.50" y1="117.30" x2="438.50" y2="115.80" stroke="#1e1e1e" stroke-width="1" />
<line x1="442.50" y1="117.30" x2="442.50" y2="118.80" stroke="#1e1e1e" stroke-width="1" />
<line x1="442.50" y1="117.30" x2="442.50" y2="115.80" stroke="#1e1e1e" stroke-width="1" />
<line x1="446.50" y1="117.30" x2="446.50" y2="119.70" stroke="#1e1e1e" stroke-width="1" />
<line x1="446.50" y1="117.30" x2="446.50" y2="114.90" stroke="#1e1e1e" stroke-width="1" />
<line x1="450.50" y1="117.30" x2="450.50" y2="118.80" stroke="#1e1e1e" stroke-width="1" />
<line x1="450.50" y1="117.30" x2="450.50" y2="115.80" stroke="#1e1e1e" stroke-width="1" />
<line x1="454.50" y1="117.30" x2="454.50" y2="118.80" stroke="#1e1e1e" stroke-width="1" />
<line x1="454.50" y1="117.30" x2="454.50" y2="115.80" stroke="#1e1e1e" stroke-width="1" />
<line x1="458.50" y1="117.30" x2="458.50" y2="118.80" stroke="#1e1e1e" stroke-width="1" />
<line x1="458.50" y1="117.30" x2="458.50" y2="115.80" stroke="#1e1e1e" stroke-width="1" />
<line x1="462.50" y1="117.30" x2="462.50" y2="118.80" stroke="#1e1e1e" stroke-width="1" />
<line x1="462.50" y1="117.30" x2="462.50" y2="115.80" stroke="#1e1e1e" stroke-width="1" />
<line x1="466.50" y1="117.30" x2="466.50" y2="118.80" stroke="#1e1e1e" stroke-width="1" />
<line x1="466.50" y1="117.30" x2="466.50" y2="115.80" stroke="#1e1e1e" stroke-width="1" />
<line x1="471.50" y1="117.30" x2="471.50" y2="118.80" stroke="#1e1e1e" stroke-width="1" />
<line x1="471.50" y1="117.30" x2="471.50" y2="115.80" stroke="#1e1e1e" stroke-width="1" />
<line x1="475.50" y1="117.30" x2="475.50" y2="118.80" stroke="#1e1e1e" stroke-width="1" />
<line x1="475.50" y1="117.30" x2="475.50" y2="115.80" stroke="#1e1e1e" stroke-width="1" />
<line x1="479.50" y1="117.30" x2="479.50" y2="118.80" stroke="#1e1e1e" stroke-width="1" />
<line x1="479.50" y1="117.30" x2="479.50" y2="115.80" stroke="#1e1e1e" stroke-width="1" />
<line x1="483.50" y1="117.30" x2="483.50" y2="118.80" stroke="#1e1e1e" stroke-width="1" />
<line x1="483.50" y1="117.30" x2="483.50" y2="115.80" stroke="#1e1e1e" stroke-width="1" />
<line x1="487.50" y1="117.30" x2="487.50" y2="119.70" stroke="#1e1e1e" stroke-width="1" />
<line x1="487.50" y1="117.30" x2="487.50" y2="114.90" stroke="#1e1e1e" stroke-width="1" />
<line x1="491.50" y1="117.30" x2="491.50" y2="118.80" stroke="#1e1e1e" stroke-width="1" />
<line x1="491.50" y1="117.30" x2="491.50" y2="115.80" stroke="#1e1e1e" stroke-width="1" />
<line x1="495.50" y1="117.30" x2="495.50" y2="118.80" stroke="#1e1e1e" stroke-width="1" />
<line x1="495.50" y1="117.30" x2="495.50" y2="115.80" stroke="#1e1e1e" stroke-width="1" />
<line x1="499.50" y1="117.30" x2="499.50" y2="118.80" stroke="#1e1e1e" stroke-width="1" />
<line x1="499.50" y1="117.30" x2="499.50" y2="115.80" stroke="#1e1e1e" stroke-width="1" />
<line x1="503.50" y1="117.30" x2="503.50" y2="118.80" stroke="#1e1e1e" stroke-width="1" />
<line x1="503.50" y1="117.30" x2="503.50" y2="115.80" stroke="#1e1e1e" stroke-width="1" />
<line x1="508.50" y1="117.30" x2="508.50" y2="118.80" stroke="#1e1e1e" stroke-width="1" />
<line x1="508.50" y1="117.30" x2="508.50" y2="115.80" stroke="#1e1e1e" stroke-width="1" />
<line x1="512.50" y1="117.30" x2="512.50" y2="118.80" stroke="#1e1e1e" stroke-width="1" />
<line x1="512.50" y1="117.30" x2="512.50" y2="115.80" stroke="#1e1e1e" stroke-width="1" />
<line x1="516.50" y1="117.30" x2="516.50" y2="118.80" stroke="#1e1e1e" stroke-width="1" />
<line x1="516.50" y1="117.30" x2="516.50" y2="115.80" stroke="#1e1e1e" stroke-width="1" />
<line x1="520.50" y1="117.30" x2="520.50" y2="118.80" stroke="#1e1e1e" stroke-width="1" />
<line x1="520.50" y1="117.30" x2="520.50" y2="115.80" stroke="#1e1e1e" stroke-width="1" />
<line x1="524.50" y1="117.30" x2="524.50" y2="118.80" stroke="#1e1e1e" stroke-width="1" />
<line x1="524.50" y1="117.30" x2="524.50" y2="115.80" stroke="#1e1e1e" stroke-width="1" />
<line x1="528.50" y1="117.30" x2="528.50" y2="119.70" stroke="#1e1e1e" stroke-width="1" />
<line x1="528.50" y1="117.30" x2="528.50" y2="114.90" stroke="#1e1e1e" stroke-width="1" />
<line x1="532.50" y1="117.30" x2="532.50" y2="118.80" stroke="#1e1e1e" stroke-width="1" />
<line x1="532.50" y1="117.30" x2="532.50" y2="115.80" stroke="#1e1e1e" stroke-width="1" />
<line x1="536.50" y1="117.30" x2="536.50" y2="118.80" stroke="#1e1e1e" stroke-width="1" />
<line x1="536.50" y1="117.30" x2="536.50" y2="115.80" stroke="#1e1e1e" stroke-width="1" />
<line x1="540.50" y1="117.30" x2="540.50" y2="118.80" stroke="#1e1e1e" stroke-width="1" />
<line x1="540.50" y1="117.30" x2="540.50" y2="115.80" stroke="#1e1e1e" stroke-width="1" />
<line x1="545.50" y1="117.30" x2="545.50" y2="118.80" stroke="#1e1e1e" stroke-width="1" />
<line x1="545.50" y1="117.30" x2="545.50" y2="115.80" stroke="#1e1e1e" stroke-width="1" />
<line x1="549.50" y1="117.30" x2="549.50" y2="118.80" stroke="#1e1e1e" stroke-width="1" />
<line x1="549.50" y1="117.30" x2="549.50" y2="115.80" stroke="#1e1e1e" stroke-width="1" />
<line x1="553.50" y1="117.30" x2="553.50" y2="118.80" stroke="#1e1e1e" stroke-width="1" />
<line x1="553.50" y1="117.30" x2="553.50" y2="115.80" stroke="#1e1e1e" stroke-width="1" />
<line x1="557.50" y1="117.30" x2="557.50" y2="118.80" stroke="#1e1e1e" stroke-width="1" />
<line x1="557.50" y1="117.30" x2="557.50" y2="115.80" stroke="#1e1e1e" stroke-width="1" />
<line x1="561.50" y1="117.30" x2="561.50" y2="118.80" stroke="#1e1e1e" stroke-width="1" />
<line x1="561.50" y1="117.30" x2="561.50" y2="115.80" stroke="#1e1e1e" stroke-width="1" />
<line x1="565.50" y1="117.30" x2="565.50" y2="118.80" stroke="#1e1e1e" stroke-width="1" />
<line x1="565.50" y1="117.30" x2="565.50" y2="115.80" stroke="#1e1e1e" stroke-width="1" />
<line x1="569.50" y1="117.30" x2="569.50" y2="119.70" stroke="#1e1e1e" stroke-width="1" />
<line x1="569.50" y1="117.30" x2="569.50" y2="114.90" stroke="#1e1e1e" stroke-width="1" />
<line x1="573.50" y1="117.30" x2="573.50" y2="118.80" stroke="#1e1e1e" stroke-width="1" />
<line x1="573.50" y1="117.30" x2="573.50" y2="115.80" stroke="#1e1e1e" stroke-width="1" />
<line x1="577.50" y1="117.30" x2="577.50" y2="118.80" stroke="#1e1e1e" stroke-width="1" />
<line x1="577.50" y1="117.30" x2="577.50" y2="115.80" stroke="#1e1e1e" stroke-width="1" />
<line x1="582.50" y1="117.30" x2="582.50" y2="118.80" stroke="#1e1e1e" stroke-width="1" />
<line x1="582.50" y1="117.30" x2="582.50" y2="115.80" stroke="#1e1e1e" stroke-width="1" />
<line x1="586.50" y1="117.30" x2="586.50" y2="118.80" stroke="#1e1e1e" stroke-width="1" />
<line x1="586.50" y1="117.30" x2="586.50" y2="115.80" stroke="#1e1e1e" stroke-width="1" />
<line x1="590.50" y1="117.30" x2="590.50" y2="118.80" stroke="#1e1e1e" stroke-width="1" />
<line x1="590.50" y1="117.30" x2="590.50" y2="115.80" stroke="#1e1e1e" stroke-width="1" />
<line x1="594.50" y1="117.30" x2="594.50" y2="118.80" stroke="#1e1e1e" stroke-width="1" />
<line x1="594.50" y1="117.30" x2="594.50" y2="115.80" stroke="#1e1e1e" stroke-width="1" />
<line x1="598.50" y1="117.30" x2="598.50" y2="118.80" stroke="#1e1e1e" stroke-width="1" />
<line x1="598.50" y1="117.30" x2="598.50" y2="115.80" stroke="#1e1e1e" stroke-width="1" />
<line x1="602.50" y1="117.30" x2="602.50" y2="118.80" stroke="#1e1e1e" stroke-width="1" />
<line x1="602.50" y1="117.30" x2="602.50" y2="115.80" stroke="#1e1e1e" stroke-width="1" />
<line x1="606.50" y1="117.30" x2="606.50" y2="118.80" stroke="#1e1e1e" stroke-width="1" />
<line x1="606.50" y1="117.30" x2="606.50" y2="115.80" stroke="#1e1e1e" stroke-width="1" />
<line x1="327.50" y1="188.70" x2="327.50" y2="190.20" stroke="#1e1e1e" stroke-width="1" />
<line x1="327.50" y1="188.70" x2="327.50" y2="187.20" stroke="#1e1e1e" stroke-width="1" />
<line x1="331.50" y1="188.70" x2="331.50" y2="190.20" stroke="#1e1e1e" stroke-width="1" />
<line x1="331.50" y1="188.70" x2="331.50" y2="187.20" stroke="#1e1e1e" stroke-width="1" />
<line x1="335.50" y1="188.70" x2="335.50" y2="190.20" stroke="#1e1e1e" stroke-width="1" />
<line x1="335.50" y1="188.70" x2="335.50" y2="187.20" stroke="#1e1e1e" stroke-width="1" />
<line x1="339.50" y1="188.70" x2="339.50" y2="190.20" stroke="#1e1e1e" stroke-width="1" />
<line x1="339.50" y1="188.70" x2="339.50" y2="187.20" stroke="#1e1e1e" stroke-width="1" />
<line x1="343.50" y1="188.70" x2="343.50" y2="190.20" stroke="#1e1e1e" stroke-width="1" />
<line x1="343.50" y1="188.70" x2="343.50" y2="187.20" stroke="#1e1e1e" stroke-width="1" />
<line x1="347.50" y1="188.70" x2="347.50" y2="190.20" stroke="#1e1e1e" stroke-width="1" />
<line x1="347.50" y1="188.70" x2="347.50" y2="187.20" stroke="#1e1e1e" stroke-width="1" />
<line x1="351.50" y1="188.70" x2="351.50" y2="190.20" stroke="#1e1e1e" stroke-width="1" />
<line x1="351.50" y1="188.70" x2="351.50" y2="187.20" stroke="#1e1e1e" stroke-width="1" />
<line x1="355.50" y1="188.70" x2="355.50" y2="190.20" stroke="#1e1e1e" stroke-width="1" />
<line x1="355.50" y1="188.70" x2="355.50" y2="187.20" stroke="#1e1e1e" stroke-width="1" />
<line x1="360.50" y1="188.70" x2="360.50" y2="190.20" stroke="#1e1e1e" stroke-width="1" />
<line x1="360.50" y1="188.70" x2="360.50" y2="187.20" stroke="#1e1e1e" stroke-width="1" />
<line x1="364.50" y1="188.70" x2="364.50" y2="191.10" stroke="#1e1e1e" stroke-width="1" />
<line x1="364.50" y1="188.70" x2="364.50" y2="186.30" stroke="#1e1e1e" stroke-width="1" />
<line x1="368.50" y1="188.70" x2="368.50" y2="190.20" stroke="#1e1e1e" stroke-width="1" />
<line x1="368.50" y1="188.70" x2="368.50" y2="187.20" stroke="#1e1e1e" stroke-width="1" />
<line x1="372.50" y1="188.70" x2="372.50" y2="190.20" stroke="#1e1e1e" stroke-width="1" />
<line x1="372.50" y1="188.70" x2="372.50" y2="187.20" stroke="#1e1e1e" stroke-width="1" />
<line x1="376.50" y1="188.70" x2="376.50" y2="190.20" stroke="#1e1e1e" stroke-width="1" />
<line x1="376.50" y1="188.70" x2="376.50" y2="187.20" stroke="#1e1e1e" stroke-width="1" />
<line x1="380.50" y1="188.70" x2="380.50" y2="190.20" stroke="#1e1e1e" stroke-width="1" />
<line x1="380.50" y1="188.70" x2="380.50" y2="187.20" stroke="#1e1e1e" stroke-width="1" />
<line x1="384.50" y1="188.70" x2="384.50" y2="190.20" stroke="#1e1e1e" stroke-width="1" />
<line x1="384.50" y1="188.70" x2="384.50" y2="187.20" stroke="#1e1e1e" stroke-width="1" />
<line x1="388.50" y1="188.70" x2="388.50" y2="190.20" stroke="#1e1e1e" stroke-width="1" />
<line x1="388.50" y1="188.70" x2="388.50" y2="187.20" stroke="#1e1e1e" stroke-width="1" />
<line x1="392.50" y1="188.70" x2="392.50" y2="190.20" stroke="#1e1e1e" stroke-width="1" />
<line x1="392.50" y1="188.70" x2="392.50" y2="187.20" stroke="#1e1e1e" stroke-width="1" />
<line x1="397.50" y1="188.70" x2="397.50" y2="190.20" stroke="#1e1e1e" stroke-width="1" />
<line x1="397.50" y1="188.70" x2="397.50" y2="187.20" stroke="#1e1e1e" stroke-width="1" />
<line x1="401.50" y1="188.70" x2="401.50" y2="190.20" stroke="#1e1e1e" stroke-width="1" />
<line x1="401.50" y1="188.70" x2="401.50" y2="187.20" stroke="#1e1e1e" stroke-width="1" />
<line x1="405.50" y1="188.70" x2="405.50" y2="191.10" stroke="#1e1e1e" stroke-width="1" />
<line x1="405.50" y1="188.70" x2="405.50" y2="186.30" stroke="#1e1e1e" stroke-width="1" />
<line x1="409.50" y1="188.70" x2="409.50" y2="190.20" stroke="#1e1e1e" stroke-width="1" />
<line x1="409.50" y1="188.70" x2="409.50" y2="187.20" stroke="#1e1e1e" stroke-width="1" />
<line x1="413.50" y1="188.70" x2="413.50" y2="190.20" stroke="#1e1e1e" stroke-width="1" />
<line x1="413.50" y1="188.70" x2="413.50" y2="187.20" stroke="#1e1e1e" stroke-width="1" />
<line x1="417.50" y1="188.70" x2="417.50" y2="190.20" stroke="#1e1e1e" stroke-width="1" />
<line x1="417.50" y1="188.70" x2="417.50" y2="187.20" stroke="#1e1e1e" stroke-width="1" />
<line x1="421.50" y1="188.70" x2="421.50" y2="190.20" stroke="#1e1e1e" stroke-width="1" />
<line x1="421.50" y1="188.70" x2="421.50" y2="187.20" stroke="#1e1e1e" stroke-width="1" />
<line x1="425.50" y1="188.70" x2="425.50" y2="190.20" stroke="#1e1e1e" stroke-width="1" />
<line x1="425.50" y1="188.70" x2="425.50" y2="187.20" stroke="#1e1e1e" stroke-width="1" />
<line x1="429.50" y1="188.70" x2="429.50" y2="190.20" stroke="#1e1e1e" stroke-width="1" />
<line x1="429.50" y1="188.70" x2="429.50" y2="187.20" stroke="#1e1e1e" stroke-width="1" />
<line x1="434.50" y1="188.70" x2="434.50" y2="190.20" stroke="#1e1e1e" stroke-width="1" />
<line x1="434.50" y1="188.70" x2="434.50" y2="187.20" stroke="#1e1e1e" stroke-width="1" />
<line x1="438.50" y1="188.70" x2="438.50" y2="190.20" stroke="#1e1e1e" stroke-width="1" />
<line x1="438.50" y1="188.70" x2="438.50" y2="187.20" stroke="#1e1e1e" stroke-width="1" />
<line x1="442.50" y1="188.70" x2="442.50" y2="190.20" stroke="#1e1e1e" stroke-width="1" />
<line x1="442.50" y1="188.70" x2="442.50" y2="187.20" stroke="#1e1e1e" stroke-width="1" />
<line x1="446.50" y1="188.70" x2="446.50" y2="191.10" stroke="#1e1e1e" stroke-width="1" />
<line x1="446.50" y1="188.70" x2="446.50" y2="186.30" stroke="#1e1e1e" stroke-width="1" />
<line x1="450.50" y1="188.70" x2="450.50" y2="190.20" stroke="#1e1e1e" stroke-width="1" />
<line x1="450.50" y1="188.70" x2="450.50" y2="187.20" stroke="#1e1e1e" stroke-width="1" />
<line x1="454.50" y1="188.70" x2="454.50" y2="190.20" stroke="#1e1e1e" stroke-width="1" />
<line x1="454.50" y1="188.70" x2="454.50" y2="187.20" stroke="#1e1e1e" stroke-width="1" />
<line x1="458.50" y1="188.70" x2="458.50" y2="190.20" stroke="#1e1e1e" stroke-width="1" />
<line x1="458.50" y1="188.70" x2="458.50" y2="187.20" stroke="#1e1e1e" stroke-width="1" />
<line x1="462.50" y1="188.70" x2="462.50" y2="190.20" stroke="#1e1e1e" stroke-width="1" />
<line x1="462.50" y1="188.70" x2="462.50" y2="187.20" stroke="#1e1e1e" stroke-width="1" />
<line x1="466.50" y1="188.70" x2="466.50" y2="190.20" stroke="#1e1e1e" stroke-width="1" />
<line x1="466.50" y1="188.70" x2="466.50" y2="187.20" stroke="#1e1e1e" stroke-width="1" />
<line x1="471.50" y1="188.70" x2="471.50" y2="190.20" stroke="#1e1e1e" stroke-width="1" />
<line x1="471.50" y1="188.70" x2="471.50" y2="187.20" stroke="#1e1e1e" stroke-width="1" />
<line x1="475.50" y1="188.70" x2="475.50" y2="190.20" stroke="#1e1e1e" stroke-width="1" />
<line x1="475.50" y1="188.70" x2="475.50" y2="187.20" stroke="#1e1e1e" stroke-width="1" />
<line x1="479.50" y1="188.70" x2="479.50" y2="190.20" stroke="#1e1e1e" stroke-width="1" />
<line x1="479.50" y1="188.70" x2="479.50" y2="187.20" stroke="#1e1e1e" stroke-width="1" />
<line x1="483.50" y1="188.70" x2="483.50" y2="190.20" stroke="#1e1e1e" stroke-width="1" />
<line x1="483.50" y1="188.70" x2="483.50" y2="187.20" stroke="#1e1e1e" stroke-width="1" />
<line x1="487.50" y1="188.70" x2="487.50" y2="191.10" stroke="#1e1e1e" stroke-width="1" />
<line x1="487.50" y1="188.70" x2="487.50" y2="186.30" stroke="#1e1e1e" stroke-width="1" />
<line x1="491.50" y1="188.70" x2="491.50" y2="190.20" stroke="#1e1e1e" stroke-width="1" />
<line x1="491.50" y1="188.70" x2="491.50" y2="187.20" stroke="#1e1e1e" stroke-width="1" />
<line x1="495.50" y1="188.70" x2="495.50" y2="190.20" stroke="#1e1e1e" stroke-width="1" />
<line x1="495.50" y1="188.70" x2="495.50" y2="187.20" stroke="#1e1e1e" stroke-width="1" />
<line x1="499.50" y1="188.70" x2="499.50" y2="190.20" stroke="#1e1e1e" stroke-width="1" />
<line x1="499.50" y1="188.70" x2="499.50" y2="187.20" stroke="#1e1e1e" stroke-width="1" />
<line x1="503.50" y1="188.70" x2="503.50" y2="190.20" stroke="#1e1e1e" stroke-width="1" />
<line x1="503.50" y1="188.70" x2="503.50" y2="187.20" stroke="#1e1e1e" stroke-width="1" />
<line x1="508.50" y1="188.70" x2="508.50" y2="190.20" stroke="#1e1e1e" stroke-width="1" />
<line x1="508.50" y1="188.70" x2="508.50" y2="187.20" stroke="#1e1e1e" stroke-width="1" />
<line x1="512.50" y1="188.70" x2="512.50" y2="190.20" stroke="#1e1e1e" stroke-width="1" />
<line x1="512.50" y1="188.70" x2="512.50" y2="187.20" stroke="#1e1e1e" stroke-width="1" />
<line x1="516.50" y1="188.70" x2="516.50" y2="190.20" stroke="#1e1e1e" stroke-width="1" />
<line x1="516.50" y1="188.70" x2="516.50" y2="187.20" stroke="#1e1e1e" stroke-width="1" />
<line x1="520.50" y1="188.70" x2="520.50" y2="190.20" stroke="#1e1e1e" stroke-width="1" />
<line x1="520.50" y1="188.70" x2="520.50" y2="187.20" stroke="#1e1e1e" stroke-width="1" />
<line x1="524.50" y1="188.70" x2="524.50" y2="190.20" stroke="#1e1e1e" stroke-width="1" />
<line x1="524.50" y1="188.70" x2="524.50" y2="187.20" stroke="#1e1e1e" stroke-width="1" />
<line x1="528.50" y1="188.70" x2="528.50" y2="191.10" stroke="#1e1e1e" stroke-width="1" />
<line x1="528.50" y1="188.70" x2="528.50" y2="186.30" stroke="#1e1e1e" stroke-width="1" />
<line x1="532.50" y1="188.70" x2="532.50" y2="190.20" stroke="#1e1e1e" stroke-width="1" />
<line x1="532.50" y1="188.70" x2="532.50" y2="187.20" stroke="#1e1e1e" stroke-width="1" />
<line x1="536.50" y1="188.70" x2="536.50" y2="190.20" stroke="#1e1e1e" stroke-width="1" />
<line x1="536.50" y1="188.70" x2="536.50" y2="187.20" stroke="#1e1e1e" stroke-width="1" />
<line x1="540.50" y1="188.70" x2="540.50" y2="190.20" stroke="#1e1e1e" stroke-width="1" />
<line x1="540.50" y1="188.70" x2="540.50" y2="187.20" stroke="#1e1e1e" stroke-width="1" />
<line x1="545.50" y1="188.70" x2="545.50" y2="190.20" stroke="#1e1e1e" stroke-width="1" />
<line x1="545.50" y1="188.70" x2="545.50" y2="187.20" stroke="#1e1e1e" stroke-width="1" />
<line x1="549.50" y1="188.70" x2="549.50" y2="190.20" stroke="#1e1e1e" stroke-width="1" />
<line x1="549.50" y1="188.70" x2="549.50" y2="187.20" stroke="#1e1e1e" stroke-width="1" />
<line x1="553.50" y1="188.70" x2="553.50" y2="190.20" stroke="#1e1e1e" stroke-width="1" />
<line x1="553.50" y1="188.70" x2="553.50" y2="187.20" stroke="#1e1e1e" stroke-width="1" />
<line x1="557.50" y1="188.70" x2="557.50" y2="190.20" stroke="#1e1e1e" stroke-width="1" />
<line x1="557.50" y1="188.70" x2="557.50" y2="187.20" stroke="#1e1e1e" stroke-width="1" />
<line x1="561.50" y1="188.70" x2="561.50" y2="190.20" stroke="#1e1e1e" stroke-width="1" />
<line x1="561.50" y1="188.70" x2="561.50" y2="187.20" stroke="#1e1e1e" stroke-width="1" />
<line x1="565.50" y1="188.70" x2="565.50" y2="190.20" stroke="#1e1e1e" stroke-width="1" />
<line x1="565.50" y1="188.70" x2="565.50" y2="187.20" stroke="#1e1e1e" stroke-width="1" />
<line x1="569.50" y1="188.70" x2="569.50" y2="191.10" stroke="#1e1e1e" stroke-width="1" />
<line x1="569.50" y1="188.70" x2="569.50" y2="186.30" stroke="#1e1e1e" stroke-width="1" />
<line x1="573.50" y1="188.70" x2="573.50" y2="190.20" stroke="#1e1e1e" stroke-width="1" />
<line x1="573.50" y1="188.70" x2="573.50" y2="187.20" stroke="#1e1e1e" stroke-width="1" />
<line x1="577.50" y1="188.70" x2="577.50" y2="190.20" stroke="#1e1e1e" stroke-width="1" />
<line x1="577.50" y1="188.70" x2="577.50" y2="187.20" stroke="#1e1e1e" stroke-width="1" />
<line x1="582.50" y1="188.70" x2="582.50" y2="190.20" stroke="#1e1e1e" stroke-width="1" />
<line x1="582.50" y1="188.70" x2="582.50" y2="187.20" stroke="#1e1e1e" stroke-width="1" />
<line x1="586.50" y1="188.70" x2="586.50" y2="190.20" stroke="#1e1e1e" stroke-width="1" />
<line x1="586.50" y1="188.70" x2="586.50" y2="187.20" stroke="#1e1e1e" stroke-width="1" />
<line x1="590.50" y1="188.70" x2="590.50" y2="190.20" stroke="#1e1e1e" stroke-width="1" />
<line x1="590.50" y1="188.70" x2="590.50" y2="187.20" stroke="#1e1e1e" stroke-width="1" />
<line x1="594.50" y1="188.70" x2="594.50" y2="190.20" stroke="#1e1e1e" stroke-width="1" />
<line x1="594.50" y1="188.70" x2="594.50" y2="187.20" stroke="#1e1e1e" stroke-width="1" />
<line x1="598.50" y1="188.70" x2="598.50" y2="190.20" stroke="#1e1e1e" stroke-width="1" />
<line x1="598.50" y1="188.70" x2="598.50" y2="187.20" stroke="#1e1e1e" stroke-width="1" />
<line x1="602.50" y1="188.70" x2="602.50" y2="190.20" stroke="#1e1e1e" stroke-width="1" />
<line x1="602.50" y1="188.70" x2="602.50" y2="187.20" stroke="#1e1e1e" stroke-width="1" />
<line x1="606.50" y1="188.70" x2="606.50" y2="190.20" stroke="#1e1e1e" stroke-width="1" />
<line x1="606.50" y1="188.70" x2="606.50" y2="187.20" stroke="#1e1e1e" stroke-width="1" />
<line x1="327.50" y1="259.30" x2="327.50" y2="260.80" stroke="#1e1e1e" stroke-width="1" />
<line x1="327.50" y1="259.30" x2="327.50" y2="257.80" stroke="#1e1e1e" stroke-width="1" />
<line x1="331.50" y1="259.30" x2="331.50" y2="260.80" stroke="#1e1e1e" stroke-width="1" />
<line x1="331.50" y1="259.30" x2="331.50" y2="257.80" stroke="#1e1e1e" stroke-width="1" />
<line x1="335.50" y1="259.30" x2="335.50" y2="260.80" stroke="#1e1e1e" stroke-width="1" />
<line x1="335.50" y1="259.30" x2="335.50" y2="257.80" stroke="#1e1e1e" stroke-width="1" />
<line x1="339.50" y1="259.30" x2="339.50" y2="260.80" stroke="#1e1e1e" stroke-width="1" />
<line x1="339.50" y1="259.30" x2="339.50" y2="257.80" stroke="#1e1e1e" stroke-width="1" />
<line x1="343.50" y1="259.30" x2="343.50" y2="260.80" stroke="#1e1e1e" stroke-width="1" />
<line x1="343.50" y1="259.30" x2="343.50" y2="257.80" stroke="#1e1e1e" stroke-width="1" />
<line x1="347.50" y1="259.30" x2="347.50" y2="260.80" stroke="#1e1e1e" stroke-width="1" />
<line x1="347.50" y1="259.30" x2="347.50" y2="257.80" stroke="#1e1e1e" stroke-width="1" />
<line x1="351.50" y1="259.30" x2="351.50" y2="260.80" stroke="#1e1e1e" stroke-width="1" />
<line x1="351.50" y1="259.30" x2="351.50" y2="257.80" stroke="#1e1e1e" stroke-width="1" />
<line x1="355.50" y1="259.30" x2="355.50" y2="260.80" stroke="#1e1e1e" stroke-width="1" />
<line x1="355.50" y1="259.30" x2="355.50" y2="257.80" stroke="#1e1e1e" stroke-width="1" />
<line x1="360.50" y1="259.30" x2="360.50" y2="260.80" stroke="#1e1e1e" stroke-width="1" />
<line x1="360.50" y1="259.30" x2="360.50" y2="257.80" stroke="#1e1e1e" stroke-width="1" />
<line x1="364.50" y1="259.30" x2="364.50" y2="261.70" stroke="#1e1e1e" stroke-width="1" />
<line x1="364.50" y1="259.30" x2="364.50" y2="256.90" stroke="#1e1e1e" stroke-width="1" />
<line x1="368.50" y1="259.30" x2="368.50" y2="260.80" stroke="#1e1e1e" stroke-width="1" />
<line x1="368.50" y1="259.30" x2="368.50" y2="257.80" stroke="#1e1e1e" stroke-width="1" />
<line x1="372.50" y1="259.30" x2="372.50" y2="260.80" stroke="#1e1e1e" stroke-width="1" />
<line x1="372.50" y1="259.30" x2="372.50" y2="257.80" stroke="#1e1e1e" stroke-width="1" />
<line x1="376.50" y1="259.30" x2="376.50" y2="260.80" stroke="#1e1e1e" stroke-width="1" />
<line x1="376.50" y1="259.30" x2="376.50" y2="257.80" stroke="#1e1e1e" stroke-width="1" />
<line x1="380.50" y1="259.30" x2="380.50" y2="260.80" stroke="#1e1e1e" stroke-width="1" />
<line x1="380.50" y1="259.30" x2="380.50" y2="257.80" stroke="#1e1e1e" stroke-width="1" />
<line x1="384.50" y1="259.30" x2="384.50" y2="260.80" stroke="#1e1e1e" stroke-width="1" />
<line x1="384.50" y1="259.30" x2="384.50" y2="257.80" stroke="#1e1e1e" stroke-width="1" />
<line x1="388.50" y1="259.30" x2="388.50" y2="260.80" stroke="#1e1e1e" stroke-width="1" />
<line x1="388.50" y1="259.30" x2="388.50" y2="257.80" stroke="#1e1e1e" stroke-width="1" />
<line x1="392.50" y1="259.30" x2="392.50" y2="260.80" stroke="#1e1e1e" stroke-width="1" />
<line x1="392.50" y1="259.30" x2="392.50" y2="257.80" stroke="#1e1e1e" stroke-width="1" />
<line x1="397.50" y1="259.30" x2="397.50" y2="260.80" stroke="#1e1e1e" stroke-width="1" />
<line x1="397.50" y1="259.30" x2="397.50" y2="257.80" stroke="#1e1e1e" stroke-width="1" />
<line x1="401.50" y1="259.30" x2="401.50" y2="260.80" stroke="#1e1e1e" stroke-width="1" />
<line x1="401.50" y1="259.30" x2="401.50" y2="257.80" stroke="#1e1e1e" stroke-width="1" />
<line x1="405.50" y1="259.30" x2="405.50" y2="261.70" stroke="#1e1e1e" stroke-width="1" />
<line x1="405.50" y1="259.30" x2="405.50" y2="256.90" stroke="#1e1e1e" stroke-width="1" />
<line x1="409.50" y1="259.30" x2="409.50" y2="260.80" stroke="#1e1e1e" stroke-width="1" />
<line x1="409.50" y1="259.30" x2="409.50" y2="257.80" stroke="#1e1e1e" stroke-width="1" />
<line x1="413.50" y1="259.30" x2="413.50" y2="260.80" stroke="#1e1e1e" stroke-width="1" />
<line x1="413.50" y1="259.30" x2="413.50" y2="257.80" stroke="#1e1e1e" stroke-width="1" />
<line x1="417.50" y1="259.30" x2="417.50" y2="260.80" stroke="#1e1e1e" stroke-width="1" />
<line x1="417.50" y1="259.30" x2="417.50" y2="257.80" stroke="#1e1e1e" stroke-width="1" />
<line x1="421.50" y1="259.30" x2="421.50" y2="260.80" stroke="#1e1e1e" stroke-width="1" />
<line x1="421.50" y1="259.30" x2="421.50" y2="257.80" stroke="#1e1e1e" stroke-width="1" />
<line x1="425.50" y1="259.30" x2="425.50" y2="260.80" stroke="#1e1e1e" stroke-width="1" />
<line x1="425.50" y1="259.30" x2="425.50" y2="257.80" stroke="#1e1e1e" stroke-width="1" />
<line x1="429.50" y1="259.30" x2="429.50" y2="260.80" stroke="#1e1e1e" stroke-width="1" />
<line x1="429.50" y1="259.30" x2="429.50" y2="257.80" stroke="#1e1e1e" stroke-width="1" />
<line x1="434.50" y1="259.30" x2="434.50" y2="260.80" stroke="#1e1e1e" stroke-width="1" />
<line x1="434.50" y1="259.30" x2="434.50" y2="257.80" stroke="#1e1e1e" stroke-width="1" />
<line x1="438.50" y1="259.30" x2="438.50" y2="260.80" stroke="#1e1e1e" stroke-width="1" />
<line x1="438.50" y1="259.30" x2="438.50" y2="257.80" stroke="#1e1e1e" stroke-width="1" />
<line x1="442.50" y1="259.30" x2="442.50" y2="260.80" stroke="#1e1e1e" stroke-width="1" />
<line x1="442.50" y1="259.30" x2="442.50" y2="257.80" stroke="#1e1e1e" stroke-width="1" />
<line x1="446.50" y1="259.30" x2="446.50" y2="261.70" stroke="#1e1e1e" stroke-width="1" />
<line x1="446.50" y1="259.30" x2="446.50" y2="256.90" stroke="#1e1e1e" stroke-width="1" />
<line x1="450.50" y1="259.30" x2="450.50" y2="260.80" stroke="#1e1e1e" stroke-width="1" />
<line x1="450.50" y1="259.30" x2="450.50" y2="257.80" stroke="#1e1e1e" stroke-width="1" />
<line x1="454.50" y1="259.30" x2="454.50" y2="260.80" stroke="#1e1e1e" stroke-width="1" />
<line x1="454.50" y1="259.30" x2="454.50" y2="257.80" stroke="#1e1e1e" stroke-width="1" />
<line x1="458.50" y1="259.30" x2="458.50" y2="260.80" stroke="#1e1e1e" stroke-width="1" />
<line x1="458.50" y1="259.30" x2="458.50" y2="257.80" stroke="#1e1e1e" stroke-width="1" />
<line x1="462.50" y1="259.30" x2="462.50" y2="260.80" stroke="#1e1e1e" stroke-width="1" />
<line x1="462.50" y1="259.30" x2="462.50" y2="257.80" stroke="#1e1e1e" stroke-width="1" />
<line x1="466.50" y1="259.30" x2="466.50" y2="260.80" stroke="#1e1e1e" stroke-width="1" />
<line x1="466.50" y1="259.30" x2="466.50" y2="257.80" stroke="#1e1e1e" stroke-width="1" />
<line x1="471.50" y1="259.30" x2="471.50" y2="260.80" stroke="#1e1e1e" stroke-width="1" />
<line x1="471.50" y1="259.30" x2="471.50" y2="257.80" stroke="#1e1e1e" stroke-width="1" />
<line x1="475.50" y1="259.30" x2="475.50" y2="260.80" stroke="#1e1e1e" stroke-width="1" />
<line x1="475.50" y1="259.30" x2="475.50" y2="257.80" stroke="#1e1e1e" stroke-width="1" />
<line x1="479.50" y1="259.30" x2="479.50" y2="260.80" stroke="#1e1e1e" stroke-width="1" />
<line x1="479.50" y1="259.30" x2="479.50" y2="257.80" stroke="#1e1e1e" stroke-width="1" />
<line x1="483.50" y1="259.30" x2="483.50" y2="260.80" stroke="#1e1e1e" stroke-width="1" />
<line x1="483.50" y1="259.30" x2="483.50" y2="257.80" stroke="#1e1e1e" stroke-width="1" />
<line x1="487.50" y1="259.30" x2="487.50" y2="261.70" stroke="#1e1e1e" stroke-width="1" />
<line x1="487.50" y1="259.30" x2="487.50" y2="256.90" stroke="#1e1e1e" stroke-width="1" />
<line x1="491.50" y1="259.30" x2="491.50" y2="260.80" stroke="#1e1e1e" stroke-width="1" />
<line x1="491.50" y1="259.30" x2="491.50" y2="257.80" stroke="#1e1e1e" stroke-width="1" />
<line x1="495.50" y1="259.30" x2="495.50" y2="260.80" stroke="#1e1e1e" stroke-width="1" />
<line x1="495.50" y1="259.30" x2="495.50" y2="257.80" stroke="#1e1e1e" stroke-width="1" />
<line x1="499.50" y1="259.30" x2="499.50" y2="260.80" stroke="#1e1e1e" stroke-width="1" />
<line x1="499.50" y1="259.30" x2="499.50" y2="257.80" stroke="#1e1e1e" stroke-width="1" />
<line x1="503.50" y1="259.30" x2="503.50" y2="260.80" stroke="#1e1e1e" stroke-width="1" />
<line x1="503.50" y1="259.30" x2="503.50" y2="257.80" stroke="#1e1e1e" stroke-width="1" />
<line x1="508.50" y1="259.30" x2="508.50" y2="260.80" stroke="#1e1e1e" stroke-width="1" />
<line x1="508.50" y1="259.30" x2="508.50" y2="257.80" stroke="#1e1e1e" stroke-width="1" />
<line x1="512.50" y1="259.30" x2="512.50" y2="260.80" stroke="#1e1e1e" stroke-width="1" />
<line x1="512.50" y1="259.30" x2="512.50" y2="257.80" stroke="#1e1e1e" stroke-width="1" />
<line x1="516.50" y1="259.30" x2="516.50" y2="260.80" stroke="#1e1e1e" stroke-width="1" />
<line x1="516.50" y1="259.30" x2="516.50" y2="257.80" stroke="#1e1e1e" stroke-width="1" />
<line x1="520.50" y1="259.30" x2="520.50" y2="260.80" stroke="#1e1e1e" stroke-width="1" />
<line x1="520.50" y1="259.30" x2="520.50" y2="257.80" stroke="#1e1e1e" stroke-width="1" />
<line x1="524.50" y1="259.30" x2="524.50" y2="260.80" stroke="#1e1e1e" stroke-width="1" />
<line x1="524.50" y1="259.30" x2="524.50" y2="257.80" stroke="#1e1e1e" stroke-width="1" />
<line x1="528.50" y1="259.30" x2="528.50" y2="261.70" stroke="#1e1e1e" stroke-width="1" />
<line x1="528.50" y1="259.30" x2="528.50" y2="256.90" stroke="#1e1e1e" stroke-width="1" />
<line x1="532.50" y1="259.30" x2="532.50" y2="260.80" stroke="#1e1e1e" stroke-width="1" />
<line x1="532.50" y1="259.30" x2="532.50" y2="257.80" stroke="#1e1e1e" stroke-width="1" />
<line x1="536.50" y1="259.30" x2="536.50" y2="260.80" stroke="#1e1e1e" stroke-width="1" />
<line x1="536.50" y1="259.30" x2="536.50" y2="257.80" stroke="#1e1e1e" stroke-width="1" />
<line x1="540.50" y1="259.30" x2="540.50" y2="260.80" stroke="#1e1e1e" stroke-width="1" />
<line x1="540.50" y1="259.30" x2="540.50" y2="257.80" stroke="#1e1e1e" stroke-width="1" />
<line x1="545.50" y1="259.30" x2="545.50" y2="260.80" stroke="#1e1e1e" stroke-width="1" />
<line x1="545.50" y1="259.30" x2="545.50" y2="257.80" stroke="#1e1e1e" stroke-width="1" />
<line x1="549.50" y1="259.30" x2="549.50" y2="260.80" stroke="#1e1e1e" stroke-width="1" />
<line x1="549.50" y1="259.30" x2="549.50" y2="257.80" stroke="#1e1e1e" stroke-width="1" />
<line x1="553.50" y1="259.30" x2="553.50" y2="260.80" stroke="#1e1e1e" stroke-width="1" />
<line x1="553.50" y1="259.30" x2="553.50" y2="257.80" stroke="#1e1e1e" stroke-width="1" />
<line x1="557.50" y1="259.30" x2="557.50" y2="260.80" stroke="#1e1e1e" stroke-width="1" />
<line x1="557.50" y1="259.30" x2="557.50" y2="257.80" stroke="#1e1e1e" stroke-width="1" />
<line x1="561.50" y1="259.30" x2="561.50" y2="260.80" stroke="#1e1e1e" stroke-width="1" />
<line x1="561.50" y1="259.30" x2="561.50" y2="257.80" stroke="#1e1e1e" stroke-width="1" />
<line x1="565.50" y1="259.30" x2="565.50" y2="260.80" stroke="#1e1e1e" stroke-width="1" />
<line x1="565.50" y1="259.30" x2="565.50" y2="257.80" stroke="#1e1e1e" stroke-width="1" />
<line x1="569.50" y1="259.30" x2="569.50" y2="261.70" stroke="#1e1e1e" stroke-width="1" />
<line x1="569.50" y1="259.30" x2="569.50" y2="256.90" stroke="#1e1e1e" stroke-width="1" />
<line x1="573.50" y1="259.30" x2="573.50" y2="260.80" stroke="#1e1e1e" stroke-width="1" />
<line x1="573.50" y1="259.30" x2="573.50" y2="257.80" stroke="#1e1e1e" stroke-width="1" />
<line x1="577.50" y1="259.30" x2="577.50" y2="260.80" stroke="#1e1e1e" stroke-width="1" />
<line x1="577.50" y1="259.30" x2="577.50" y2="257.80" stroke="#1e1e1e" stroke-width="1" />
<line x1="582.50" y1="259.30" x2="582.50" y2="260.80" stroke="#1e1e1e" stroke-width="1" />
<line x1="582.50" y1="259.30" x2="582.50" y2="257.80" stroke="#1e1e1e" stroke-width="1" />
<line x1="586.50" y1="259.30" x2="586.50" y2="260.80" stroke="#1e1e1e" stroke-width="1" />
<line x1="586.50" y1="259.30" x2="586.50" y2="257.80" stroke="#1e1e1e" stroke-width="1" />
<line x1="590.50" y1="259.30" x2="590.50" y2="260.80" stroke="#1e1e1e" stroke-width="1" />
<line x1="590.50" y1="259.30" x2="590.50" y2="257.80" stroke="#1e1e1e" stroke-width="1" />
<line x1="594.50" y1="259.30" x2="594.50" y2="260.80" stroke="#1e1e1e" stroke-width="1" />
<line x1="594.50" y1="259.30" x2="594.50" y2="257.80" stroke="#1e1e1e" stroke-width="1" />
<line x1="598.50" y1="259.30" x2="598.50" y2="260.80" stroke="#1e1e1e" stroke-width="1" />
<line x1="598.50" y1="259.30" x2="598.50" y2="257.80" stroke="#1e1e1e" stroke-width="1" />
<line x1="602.50" y1="259.30" x2="602.50" y2="260.80" stroke="#1e1e1e" stroke-width="1" />
<line x1="602.50" y1="259.30" x2="602.50" y2="257.80" stroke="#1e1e1e" stroke-width="1" />
<line x1="606.50" y1="259.30" x2="606.50" y2="260.80" stroke="#1e1e1e" stroke-width="1" />
<line x1="606.50" y1="259.30" x2="606.50" y2="257.80" stroke="#1e1e1e" stroke-width="1" />
<line x1="327.50" y1="311.70" x2="327.50" y2="310.20" stroke="#1e1e1e" stroke-width="1" />
<line x1="331.50" y1="311.70" x2="331.50" y2="310.20" stroke="#1e1e1e" stroke-width="1" />
<line x1="335.50" y1="311.70" x2="335.50" y2="310.20" stroke="#1e1e1e" stroke-width="1" />
<line x1="339.50" y1="311.70" x2="339.50" y2="310.20" stroke="#1e1e1e" stroke-width="1" />
<line x1="343.50" y1="311.70" x2="343.50" y2="310.20" stroke="#1e1e1e" stroke-width="1" />
<line x1="347.50" y1="311.70" x2="347.50" y2="310.20" stroke="#1e1e1e" stroke-width="1" />
<line x1="351.50" y1="311.70" x2="351.50" y2="310.20" stroke="#1e1e1e" stroke-width="1" />
<line x1="355.50" y1="311.70" x2="355.50" y2="310.20" stroke="#1e1e1e" stroke-width="1" />
<line x1="360.50" y1="311.70" x2="360.50" y2="310.20" stroke="#1e1e1e" stroke-width="1" />
<line x1="364.50" y1="311.70" x2="364.50" y2="309.30" stroke="#1e1e1e" stroke-width="1" />
<line x1="368.50" y1="311.70" x2="368.50" y2="310.20" stroke="#1e1e1e" stroke-width="1" />
<line x1="372.50" y1="311.70" x2="372.50" y2="310.20" stroke="#1e1e1e" stroke-width="1" />
<line x1="376.50" y1="311.70" x2="376.50" y2="310.20" stroke="#1e1e1e" stroke-width="1" />
<line x1="380.50" y1="311.70" x2="380.50" y2="310.20" stroke="#1e1e1e" stroke-width="1" />
<line x1="384.50" y1="311.70" x2="384.50" y2="310.20" stroke="#1e1e1e" stroke-width="1" />
<line x1="388.50" y1="311.70" x2="388.50" y2="310.20" stroke="#1e1e1e" stroke-width="1" />
<line x1="392.50" y1="311.70" x2="392.50" y2="310.20" stroke="#1e1e1e" stroke-width="1" />
<line x1="397.50" y1="311.70" x2="397.50" y2="310.20" stroke="#1e1e1e" stroke-width="1" />
<line x1="401.50" y1="311.70" x2="401.50" y2="310.20" stroke="#1e1e1e" stroke-width="1" />
<line x1="405.50" y1="311.70" x2="405.50" y2="309.30" stroke="#1e1e1e" stroke-width="1" />
<line x1="409.50" y1="311.70" x2="409.50" y2="310.20" stroke="#1e1e1e" stroke-width="1" />
<line x1="413.50" y1="311.70" x2="413.50" y2="310.20" stroke="#1e1e1e" stroke-width="1" />
<line x1="417.50" y1="311.70" x2="417.50" y2="310.20" stroke="#1e1e1e" stroke-width="1" />
<line x1="421.50" y1="311.70" x2="421.50" y2="310.20" stroke="#1e1e1e" stroke-width="1" />
<line x1="425.50" y1="311.70" x2="425.50" y2="310.20" stroke="#1e1e1e" stroke-width="1" />
<line x1="429.50" y1="311.70" x2="429.50" y2="310.20" stroke="#1e1e1e" stroke-width="1" />
<line x1="434.50" y1="311.70" x2="434.50" y2="310.20" stroke="#1e1e1e" stroke-width="1" />
<line x1="438.50" y1="311.70" x2="438.50" y2="310.20" stroke="#1e1e1e" stroke-width="1" />
<line x1="442.50" y1="311.70" x2="442.50" y2="310.20" stroke="#1e1e1e" stroke-width="1" />
<line x1="446.50" y1="311.70" x2="446.50" y2="309.30" stroke="#1e1e1e" stroke-width="1" />
<line x1="450.50" y1="311.70" x2="450.50" y2="310.20" stroke="#1e1e1e" stroke-width="1" />
<line x1="454.50" y1="311.70" x2="454.50" y2="310.20" stroke="#1e1e1e" stroke-width="1" />
<line x1="458.50" y1="311.70" x2="458.50" y2="310.20" stroke="#1e1e1e" stroke-width="1" />
<line x1="462.50" y1="311.70" x2="462.50" y2="310.20" stroke="#1e1e1e" stroke-width="1" />
<line x1="466.50" y1="311.70" x2="466.50" y2="310.20" stroke="#1e1e1e" stroke-width="1" />
<line x1="471.50" y1="311.70" x2="471.50" y2="310.20" stroke="#1e1e1e" stroke-width="1" />
<line x1="475.50" y1="311.70" x2="475.50" y2="310.20" stroke="#1e1e1e" stroke-width="1" />
<line x1="479.50" y1="311.70" x2="479.50" y2="310.20" stroke="#1e1e1e" stroke-width="1" />
<line x1="483.50" y1="311.70" x2="483.50" y2="310.20" stroke="#1e1e1e" stroke-width="1" />
<line x1="487.50" y1="311.70" x2="487.50" y2="309.30" stroke="#1e1e1e" stroke-width="1" />
<line x1="491.50" y1="311.70" x2="491.50" y2="310.20" stroke="#1e1e1e" stroke-width="1" />
<line x1="495.50" y1="311.70" x2="495.50" y2="310.20" stroke="#1e1e1e" stroke-width="1" />
<line x1="499.50" y1="311.70" x2="499.50" y2="310.20" stroke="#1e1e1e" stroke-width="1" />
<line x1="503.50" y1="311.70" x2="503.50" y2="310.20" stroke="#1e1e1e" stroke-width="1" />
<line x1="508.50" y1="311.70" x2="508.50" y2="310.20" stroke="#1e1e1e" stroke-width="1" />
<line x1="512.50" y1="311.70" x2="512.50" y2="310.20" stroke="#1e1e1e" stroke-width="1" />
<line x1="516.50" y1="311.70" x2="516.50" y2="310.20" stroke="#1e1e1e" stroke-width="1" />
<line x1="520.50" y1="311.70" x2="520.50" y2="310.20" stroke="#1e1e1e" stroke-width="1" />
<line x1="524.50" y1="311.70" x2="524.50" y2="310.20" stroke="#1e1e1e" stroke-width="1" />
<line x1="528.50" y1="311.70" x2="528.50" y2="309.30" stroke="#1e1e1e" stroke-width="1" />
<line x1="532.50" y1="311.70" x2="532.50" y2="310.20" stroke="#1e1e1e" stroke-width="1" />
<line x1="536.50" y1="311.70" x2="536.50" y2="310.20" stroke="#1e1e1e" stroke-width="1" />
<line x1="540.50" y1="311.70" x2="540.50" y2="310.20" stroke="#1e1e1e" stroke-width="1" />
<line x1="545.50" y1="311.70" x2="545.50" y2="310.20" stroke="#1e1e1e" stroke-width="1" />
<line x1="549.50" y1="311.70" x2="549.50" y2="310.20" stroke="#1e1e1e" stroke-width="1" />
<line x1="553.50" y1="311.70" x2="553.50" y2="310.20" stroke="#1e1e1e" stroke-width="1" />
<line x1="557.50" y1="311.70" x2="557.50" y2="310.20" stroke="#1e1e1e" stroke-width="1" />
<line x1="561.50" y1="311.70" x2="561.50" y2="310.20" stroke="#1e1e1e" stroke-width="1" />
<line x1="565.50" y1="311.70" x2="565.50" y2="310.20" stroke="#1e1e1e" stroke-width="1" />
<line x1="569.50" y1="311.70" x2="569.50" y2="309.30" stroke="#1e1e1e" stroke-width="1" />
<line x1="573.50" y1="311.70" x2="573.50" y2="310.20" stroke="#1e1e1e" stroke-width="1" />
<line x1="577.50" y1="311.70" x2="577.50" y2="310.20" stroke="#1e1e1e" stroke-width="1" />
<line x1="582.50" y1="311.70" x2="582.50" y2="310.20" stroke="#1e1e1e" stroke-width="1" />
<line x1="586.50" y1="311.70" x2="586.50" y2="310.20" stroke="#1e1e1e" stroke-width="1" />
<line x1="590.50" y1="311.70" x2="590.50" y2="310.20" stroke="#1e1e1e" stroke-width="1" />
<line x1="594.50" y1="311.70" x2="594.50" y2="310.20" stroke="#1e1e1e" stroke-width="1" />
<line x1="598.50" y1="311.70" x2="598.50" y2="310.20" stroke="#1e1e1e" stroke-width="1" />
<line x1="602.50" y1="311.70" x2="602.50" y2="310.20" stroke="#1e1e1e" stroke-width="1" />
<line x1="606.50" y1="311.70" x2="606.50" y2="310.20" stroke="#1e1e1e" stroke-width="1" />
<line x1="23.80" y1="48.50" x2="26.80" y2="48.50" stroke="#1e1e1e" stroke-width="1" />
<line x1="311.60" y1="48.50" x2="308.60" y2="48.50" stroke="#1e1e1e" stroke-width="1" />
<line x1="23.80" y1="50.50" x2="26.80" y2="50.50" stroke="#1e1e1e" stroke-width="1" />
<line x1="311.60" y1="50.50" x2="308.60" y2="50.50" stroke="#1e1e1e" stroke-width="1" />
<line x1="23.80" y1="52.50" x2="26.80" y2="52.50" stroke="#1e1e1e" stroke-width="1" />
<line x1="311.60" y1="52.50" x2="308.60" y2="52.50" stroke="#1e1e1e" stroke-width="1" />
<line x1="23.80" y1="55.50" x2="26.80" y2="55.50" stroke="#1e1e1e" stroke-width="1" />
<line x1="311.60" y1="55.50" x2="308.60" y2="55.50" stroke="#1e1e1e" stroke-width="1" />
<line x1="23.80" y1="57.50" x2="29.80" y2="57.50" stroke="#1e1e1e" stroke-width="1" />
<line x1="311.60" y1="57.50" x2="305.60" y2="57.50" stroke="#1e1e1e" stroke-width="1" />
<line x1="23.80" y1="60.50" x2="26.80" y2="60.50" stroke="#1e1e1e" stroke-width="1" />
<line x1="311.60" y1="60.50" x2="308.60" y2="60.50" stroke="#1e1e1e" stroke-width="1" />
<line x1="23.80" y1="62.50" x2="26.80" y2="62.50" stroke="#1e1e1e" stroke-width="1" />
<line x1="311.60" y1="62.50" x2="308.60" y2="62.50" stroke="#1e1e1e" stroke-width="1" />
<line x1="23.80" y1="64.50" x2="26.80" y2="64.50" stroke="#1e1e1e" stroke-width="1" />
<line x1="311.60" y1="64.50" x2="308.60" y2="64.50" stroke="#1e1e1e" stroke-width="1" />
<line x1="23.80" y1="67.50" x2="26.80" y2="67.50" stroke="#1e1e1e" stroke-width="1" />
<line x1="311.60" y1="67.50" x2="308.60" y2="67.50" stroke="#1e1e1e" stroke-width="1" />
<line x1="23.80" y1="69.50" x2="29.80" y2="69.50" stroke="#1e1e1e" stroke-width="1" />
<line x1="311.60" y1="69.50" x2="305.60" y2="69.50" stroke="#1e1e1e" stroke-width="1" />
<line x1="23.80" y1="71.50" x2="26.80" y2="71.50" stroke="#1e1e1e" stroke-width="1" />
<line x1="311.60" y1="71.50" x2="308.60" y2="71.50" stroke="#1e1e1e" stroke-width="1" />
<line x1="23.80" y1="74.50" x2="26.80" y2="74.50" stroke="#1e1e1e" stroke-width="1" />
<line x1="311.60" y1="74.50" x2="308.60" y2="74.50" stroke="#1e1e1e" stroke-width="1" />
<line x1="23.80" y1="76.50" x2="26.80" y2="76.50" stroke="#1e1e1e" stroke-width="1" />
<line x1="311.60" y1="76.50" x2="308.60" y2="76.50" stroke="#1e1e1e" stroke-width="1" />
<line x1="23.80" y1="78.50" x2="26.80" y2="78.50" stroke="#1e1e1e" stroke-width="1" />
<line x1="311.60" y1="78.50" x2="308.60" y2="78.50" stroke="#1e1e1e" stroke-width="1" />
<line x1="23.80" y1="81.50" x2="29.80" y2="81.50" stroke="#1e1e1e" stroke-width="1" />
<line x1="311.60" y1="81.50" x2="305.60" y2="81.50" stroke="#1e1e1e" stroke-width="1" />
<line x1="23.80" y1="83.50" x2="26.80" y2="83.50" stroke="#1e1e1e" stroke-width="1" />
<line x1="311.60" y1="83.50" x2="308.60" y2="83.50" stroke="#1e1e1e" stroke-width="1" />
<line x1="23.80" y1="85.50" x2="26.80" y2="85.50" stroke="#1e1e1e" stroke-width="1" />
<line x1="311.60" y1="85.50" x2="308.60" y2="85.50" stroke="#1e1e1e" stroke-width="1" />
<line x1="23.80" y1="88.50" x2="26.80" y2="88.50" stroke="#1e1e1e" stroke-width="1" />
<line x1="311.60" y1="88.50" x2="308.60" y2="88.50" stroke="#1e1e1e" stroke-width="1" />
<line x1="23.80" y1="90.50" x2="26.80" y2="90.50" stroke="#1e1e1e" stroke-width="1" />
<line x1="311.60" y1="90.50" x2="308.60" y2="90.50" stroke="#1e1e1e" stroke-width="1" />
<line x1="23.80" y1="92.50" x2="29.80" y2="92.50" stroke="#1e1e1e" stroke-width="1" />
<line x1="311.60" y1="92.50" x2="305.60" y2="92.50" stroke="#1e1e1e" stroke-width="1" />
<line x1="23.80" y1="95.50" x2="26.80" y2="95.50" stroke="#1e1e1e" stroke-width="1" />
<line x1="311.60" y1="95.50" x2="308.60" y2="95.50" stroke="#1e1e1e" stroke-width="1" />
<line x1="23.80" y1="97.50" x2="26.80" y2="97.50" stroke="#1e1e1e" stroke-width="1" />
<line x1="311.60" y1="97.50" x2="308.60" y2="97.50" stroke="#1e1e1e" stroke-width="1" />
<line x1="23.80" y1="99.50" x2="26.80" y2="99.50" stroke="#1e1e1e" stroke-width="1" />
<line x1="311.60" y1="99.50" x2="308.60" y2="99.50" stroke="#1e1e1e" stroke-width="1" />
<line x1="23.80" y1="102.50" x2="26.80" y2="102.50" stroke="#1e1e1e" stroke-width="1" />
<line x1="311.60" y1="102.50" x2="308.60" y2="102.50" stroke="#1e1e1e" stroke-width="1" />
<line x1="23.80" y1="104.50" x2="29.80" y2="104.50" stroke="#1e1e1e" stroke-width="1" />
<line x1="311.60" y1="104.50" x2="305.60" y2="104.50" stroke="#1e1e1e" stroke-width="1" />
<line x1="23.80" y1="107.50" x2="26.80" y2="107.50" stroke="#1e1e1e" stroke-width="1" />
<line x1="311.60" y1="107.50" x2="308.60" y2="107.50" stroke="#1e1e1e" stroke-width="1" />
<line x1="23.80" y1="109.50" x2="26.80" y2="109.50" stroke="#1e1e1e" stroke-width="1" />
<line x1="311.60" y1="109.50" x2="308.60" y2="109.50" stroke="#1e1e1e" stroke-width="1" />
<line x1="23.80" y1="111.50" x2="26.80" y2="111.50" stroke="#1e1e1e" stroke-width="1" />
<line x1="311.60" y1="111.50" x2="308.60" y2="111.50" stroke="#1e1e1e" stroke-width="1" />
<line x1="23.80" y1="114.50" x2="26.80" y2="114.50" stroke="#1e1e1e" stroke-width="1" />
<line x1="311.60" y1="114.50" x2="308.60" y2="114.50" stroke="#1e1e1e" stroke-width="1" />
<line x1="23.80" y1="120.50" x2="26.80" y2="120.50" stroke="#1e1e1e" stroke-width="1" />
<line x1="311.60" y1="120.50" x2="308.60" y2="120.50" stroke="#1e1e1e" stroke-width="1" />
<line x1="23.80" y1="125.50" x2="26.80" y2="125.50" stroke="#1e1e1e" stroke-width="1" />
<line x1="311.60" y1="125.50" x2="308.60" y2="125.50" stroke="#1e1e1e" stroke-width="1" />
<line x1="23.80" y1="129.50" x2="26.80" y2="129.50" stroke="#1e1e1e" stroke-width="1" />
<line x1="311.60" y1="129.50" x2="308.60" y2="129.50" stroke="#1e1e1e" stroke-width="1" />
<line x1="23.80" y1="134.50" x2="29.80" y2="134.50" stroke="#1e1e1e" stroke-width="1" />
<line x1="311.60" y1="134.50" x2="305.60" y2="134.50" stroke="#1e1e1e" stroke-width="1" />
<line x1="23.80" y1="138.50" x2="26.80" y2="138.50" stroke="#1e1e1e" stroke-width="1" />
<line x1="311.60" y1="138.50" x2="308.60" y2="138.50" stroke="#1e1e1e" stroke-width="1" />
<line x1="23.80" y1="143.50" x2="26.80" y2="143.50" stroke="#1e1e1e" stroke-width="1" />
<line x1="311.60" y1="143.50" x2="308.60" y2="143.50" stroke="#1e1e1e" stroke-width="1" />
<line x1="23.80" y1="147.50" x2="26.80" y2="147.50" stroke="#1e1e1e" stroke-width="1" />
<line x1="311.60" y1="147.50" x2="308.60" y2="147.50" stroke="#1e1e1e" stroke-width="1" />
<line x1="23.80" y1="152.50" x2="29.80" y2="152.50" stroke="#1e1e1e" stroke-width="1" />
<line x1="311.60" y1="152.50" x2="305.60" y2="152.50" stroke="#1e1e1e" stroke-width="1" />
<line x1="23.80" y1="156.50" x2="26.80" y2="156.50" stroke="#1e1e1e" stroke-width="1" />
<line x1="311.60" y1="156.50" x2="308.60" y2="156.50" stroke="#1e1e1e" stroke-width="1" />
<line x1="23.80" y1="161.50" x2="26.80" y2="161.50" stroke="#1e1e1e" stroke-width="1" />
<line x1="311.60" y1="161.50" x2="308.60" y2="161.50" stroke="#1e1e1e" stroke-width="1" />
<line x1="23.80" y1="165.50" x2="26.80" y2="165.50" stroke="#1e1e1e" stroke-width="1" />
<line x1="311.60" y1="165.50" x2="308.60" y2="165.50" stroke="#1e1e1e" stroke-width="1" />
<line x1="23.80" y1="169.50" x2="29.80" y2="169.50" stroke="#1e1e1e" stroke-width="1" />
<line x1="311.60" y1="169.50" x2="305.60" y2="169.50" stroke="#1e1e1e" stroke-width="1" />
<line x1="23.80" y1="174.50" x2="26.80" y2="174.50" stroke="#1e1e1e" stroke-width="1" />
<line x1="311.60" y1="174.50" x2="308.60" y2="174.50" stroke="#1e1e1e" stroke-width="1" />
<line x1="23.80" y1="178.50" x2="26.80" y2="178.50" stroke="#1e1e1e" stroke-width="1" />
<line x1="311.60" y1="178.50" x2="308.60" y2="178.50" stroke="#1e1e1e" stroke-width="1" />
<line x1="23.80" y1="183.50" x2="26.80" y2="183.50" stroke="#1e1e1e" stroke-width="1" />
<line x1="311.60" y1="183.50" x2="308.60" y2="183.50" stroke="#1e1e1e" stroke-width="1" />
<line x1="23.80" y1="190.50" x2="26.80" y2="190.50" stroke="#1e1e1e" stroke-width="1" />
<line x1="311.60" y1="190.50" x2="308.60" y2="190.50" stroke="#1e1e1e" stroke-width="1" />
<line x1="23.80" y1="192.50" x2="26.80" y2="192.50" stroke="#1e1e1e" stroke-width="1" />
<line x1="311.60" y1="192.50" x2="308.60" y2="192.50" stroke="#1e1e1e" stroke-width="1" />
<line x1="23.80" y1="194.50" x2="26.80" y2="194.50" stroke="#1e1e1e" stroke-width="1" />
<line x1="311.60" y1="194.50" x2="308.60" y2="194.50" stroke="#1e1e1e" stroke-width="1" />
<line x1="23.80" y1="197.50" x2="26.80" y2="197.50" stroke="#1e1e1e" stroke-width="1" />
<line x1="311.60" y1="197.50" x2="308.60" y2="197.50" stroke="#1e1e1e" stroke-width="1" />
<line x1="23.80" y1="199.50" x2="29.80" y2="199.50" stroke="#1e1e1e" stroke-width="1" />
<line x1="311.60" y1="199.50" x2="305.60" y2="199.50" stroke="#1e1e1e" stroke-width="1" />
<line x1="23.80" y1="201.50" x2="26.80" y2="201.50" stroke="#1e1e1e" stroke-width="1" />
<line x1="311.60" y1="201.50" x2="308.60" y2="201.50" stroke="#1e1e1e" stroke-width="1" />
<line x1="23.80" y1="204.50" x2="26.80" y2="204.50" stroke="#1e1e1e" stroke-width="1" />
<line x1="311.60" y1="204.50" x2="308.60" y2="204.50" stroke="#1e1e1e" stroke-width="1" />
<line x1="23.80" y1="206.50" x2="26.80" y2="206.50" stroke="#1e1e1e" stroke-width="1" />
<line x1="311.60" y1="206.50" x2="308.60" y2="206.50" stroke="#1e1e1e" stroke-width="1" />
<line x1="23.80" y1="209.50" x2="26.80" y2="209.50" stroke="#1e1e1e" stroke-width="1" />
<line x1="311.60" y1="209.50" x2="308.60" y2="209.50" stroke="#1e1e1e" stroke-width="1" />
<line x1="23.80" y1="211.50" x2="29.80" y2="211.50" stroke="#1e1e1e" stroke-width="1" />
<line x1="311.60" y1="211.50" x2="305.60" y2="211.50" stroke="#1e1e1e" stroke-width="1" />
<line x1="23.80" y1="213.50" x2="26.80" y2="213.50" stroke="#1e1e1e" stroke-width="1" />
<line x1="311.60" y1="213.50" x2="308.60" y2="213.50" stroke="#1e1e1e" stroke-width="1" />
<line x1="23.80" y1="216.50" x2="26.80" y2="216.50" stroke="#1e1e1e" stroke-width="1" />
<line x1="311.60" y1="216.50" x2="308.60" y2="216.50" stroke="#1e1e1e" stroke-width="1" />
<line x1="23.80" y1="218.50" x2="26.80" y2="218.50" stroke="#1e1e1e" stroke-width="1" />
<line x1="311.60" y1="218.50" x2="308.60" y2="218.50" stroke="#1e1e1e" stroke-width="1" />
<line x1="23.80" y1="220.50" x2="26.80" y2="220.50" stroke="#1e1e1e" stroke-width="1" />
<line x1="311.60" y1="220.50" x2="308.60" y2="220.50" stroke="#1e1e1e" stroke-width="1" />
<line x1="23.80" y1="223.50" x2="29.80" y2="223.50" stroke="#1e1e1e" stroke-width="1" />
<line x1="311.60" y1="223.50" x2="305.60" y2="223.50" stroke="#1e1e1e" stroke-width="1" />
<line x1="23.80" y1="225.50" x2="26.80" y2="225.50" stroke="#1e1e1e" stroke-width="1" />
<line x1="311.60" y1="225.50" x2="308.60" y2="225.50" stroke="#1e1e1e" stroke-width="1" />
<line x1="23.80" y1="227.50" x2="26.80" y2="227.50" stroke="#1e1e1e" stroke-width="1" />
<line x1="311.60" y1="227.50" x2="308.60" y2="227.50" stroke="#1e1e1e" stroke-width="1" />
<line x1="23.80" y1="230.50" x2="26.80" y2="230.50" stroke="#1e1e1e" stroke-width="1" />
<line x1="311.60" y1="230.50" x2="308.60" y2="230.50" stroke="#1e1e1e" stroke-width="1" />
<line x1="23.80" y1="232.50" x2="26.80" y2="232.50" stroke="#1e1e1e" stroke-width="1" />
<line x1="311.60" y1="232.50" x2="308.60" y2="232.50" stroke="#1e1e1e" stroke-width="1" />
<line x1="23.80" y1="234.50" x2="29.80" y2="234.50" stroke="#1e1e1e" stroke-width="1" />
<line x1="311.60" y1="234.50" x2="305.60" y2="234.50" stroke="#1e1e1e" stroke-width="1" />
<line x1="23.80" y1="237.50" x2="26.80" y2="237.50" stroke="#1e1e1e" stroke-width="1" />
<line x1="311.60" y1="237.50" x2="308.60" y2="237.50" stroke="#1e1e1e" stroke-width="1" />
<line x1="23.80" y1="239.50" x2="26.80" y2="239.50" stroke="#1e1e1e" stroke-width="1" />
<line x1="311.60" y1="239.50" x2="308.60" y2="239.50" stroke="#1e1e1e" stroke-width="1" />
<line x1="23.80" y1="242.50" x2="26.80" y2="242.50" stroke="#1e1e1e" stroke-width="1" />
<line x1="311.60" y1="242.50" x2="308.60" y2="242.50" stroke="#1e1e1e" stroke-width="1" />
<line x1="23.80" y1="244.50" x2="26.80" y2="244.50" stroke="#1e1e1e" stroke-width="1" />
<line x1="311.60" y1="244.50" x2="308.60" y2="244.50" stroke="#1e1e1e" stroke-width="1" />
<line x1="23.80" y1="246.50" x2="29.80" y2="246.50" stroke="#1e1e1e" stroke-width="1" />
<line x1="311.60" y1="246.50" x2="305.60" y2="246.50" stroke="#1e1e1e" stroke-width="1" />
<line x1="23.80" y1="249.50" x2="26.80" y2="249.50" stroke="#1e1e1e" stroke-width="1" />
<line x1="311.60" y1="249.50" x2="308.60" y2="249.50" stroke="#1e1e1e" stroke-width="1" />
<line x1="23.80" y1="251.50" x2="26.80" y2="251.50" stroke="#1e1e1e" stroke-width="1" />
<line x1="311.60" y1="251.50" x2="308.60" y2="251.50" stroke="#1e1e1e" stroke-width="1" />
<line x1="23.80" y1="253.50" x2="26.80" y2="253.50" stroke="#1e1e1e" stroke-width="1" />
<line x1="311.60" y1="253.50" x2="308.60" y2="253.50" stroke="#1e1e1e" stroke-width="1" />
<line x1="23.80" y1="256.50" x2="26.80" y2="256.50" stroke="#1e1e1e" stroke-width="1" />
<line x1="311.60" y1="256.50" x2="308.60" y2="256.50" stroke="#1e1e1e" stroke-width="1" />
<line x1="23.80" y1="261.50" x2="26.80" y2="261.50" stroke="#1e1e1e" stroke-width="1" />
<line x1="311.60" y1="261.50" x2="308.60" y2="261.50" stroke="#1e1e1e" stroke-width="1" />
<line x1="23.80" y1="265.50" x2="26.80" y2="265.50" stroke="#1e1e1e" stroke-width="1" />
<line x1="311.60" y1="265.50" x2="308.60" y2="265.50" stroke="#1e1e1e" stroke-width="1" />
<line x1="23.80" y1="268.50" x2="26.80" y2="268.50" stroke="#1e1e1e" stroke-width="1" />
<line x1="311.60" y1="268.50" x2="308.60" y2="268.50" stroke="#1e1e1e" stroke-width="1" />
<line x1="23.80" y1="271.50" x2="29.80" y2="271.50" stroke="#1e1e1e" stroke-width="1" />
<line x1="311.60" y1="271.50" x2="305.60" y2="271.50" stroke="#1e1e1e" stroke-width="1" />
<line x1="23.80" y1="275.50" x2="26.80" y2="275.50" stroke="#1e1e1e" stroke-width="1" />
<line x1="311.60" y1="275.50" x2="308.60" y2="275.50" stroke="#1e1e1e" stroke-width="1" />
<line x1="23.80" y1="278.50" x2="26.80" y2="278.50" stroke="#1e1e1e" stroke-width="1" />
<line x1="311.60" y1="278.50" x2="308.60" y2="278.50" stroke="#1e1e1e" stroke-width="1" />
<line x1="23.80" y1="281.50" x2="26.80" y2="281.50" stroke="#1e1e1e" stroke-width="1" />
<line x1="311.60" y1="281.50" x2="308.60" y2="281.50" stroke="#1e1e1e" stroke-width="1" />
<line x1="23.80" y1="284.50" x2="29.80" y2="284.50" stroke="#1e1e1e" stroke-width="1" />
<line x1="311.60" y1="284.50" x2="305.60" y2="284.50" stroke="#1e1e1e" stroke-width="1" />
<line x1="23.80" y1="288.50" x2="26.80" y2="288.50" stroke="#1e1e1e" stroke-width="1" />
<line x1="311.60" y1="288.50" x2="308.60" y2="288.50" stroke="#1e1e1e" stroke-width="1" />
<line x1="23.80" y1="291.50" x2="26.80" y2="291.50" stroke="#1e1e1e" stroke-width="1" />
<line x1="311.60" y1="291.50" x2="308.60" y2="291.50" stroke="#1e1e1e" stroke-width="1" />
<line x1="23.80" y1="294.50" x2="26.80" y2="294.50" stroke="#1e1e1e" stroke-width="1" />
<line x1="311.60" y1="294.50" x2="308.60" y2="294.50" stroke="#1e1e1e" stroke-width="1" />
<line x1="23.80" y1="298.50" x2="29.80" y2="298.50" stroke="#1e1e1e" stroke-width="1" />
<line x1="311.60" y1="298.50" x2="305.60" y2="298.50" stroke="#1e1e1e" stroke-width="1" />
<line x1="23.80" y1="301.50" x2="26.80" y2="301.50" stroke="#1e1e1e" stroke-width="1" />
<line x1="311.60" y1="301.50" x2="308.60" y2="301.50" stroke="#1e1e1e" stroke-width="1" />
<line x1="23.80" y1="304.50" x2="26.80" y2="304.50" stroke="#1e1e1e" stroke-width="1" />
<line x1="311.60" y1="304.50" x2="308.60" y2="304.50" stroke="#1e1e1e" stroke-width="1" />
<line x1="23.80" y1="308.50" x2="26.80" y2="308.50" stroke="#1e1e1e" stroke-width="1" />
<line x1="311.60" y1="308.50" x2="308.60" y2="308.50" stroke="#1e1e1e" stroke-width="1" />
<line x1="323.00" y1="48.50" x2="326.00" y2="48.50" stroke="#1e1e1e" stroke-width="1" />
<line x1="610.20" y1="48.50" x2="607.20" y2="48.50" stroke="#1e1e1e" stroke-width="1" />
<line x1="323.00" y1="50.50" x2="326.00" y2="50.50" stroke="#1e1e1e" stroke-width="1" />
<line x1="610.20" y1="50.50" x2="607.20" y2="50.50" stroke="#1e1e1e" stroke-width="1" />
<line x1="323.00" y1="53.50" x2="326.00" y2="53.50" stroke="#1e1e1e" stroke-width="1" />
<line x1="610.20" y1="53.50" x2="607.20" y2="53.50" stroke="#1e1e1e" stroke-width="1" />
<line x1="323.00" y1="55.50" x2="326.00" y2="55.50" stroke="#1e1e1e" stroke-width="1" />
<line x1="610.20" y1="55.50" x2="607.20" y2="55.50" stroke="#1e1e1e" stroke-width="1" />
<line x1="323.00" y1="58.50" x2="329.00" y2="58.50" stroke="#1e1e1e" stroke-width="1" />
<line x1="610.20" y1="58.50" x2="604.20" y2="58.50" stroke="#1e1e1e" stroke-width="1" />
<line x1="323.00" y1="60.50" x2="326.00" y2="60.50" stroke="#1e1e1e" stroke-width="1" />
<line x1="610.20" y1="60.50" x2="607.20" y2="60.50" stroke="#1e1e1e" stroke-width="1" />
<line x1="323.00" y1="62.50" x2="326.00" y2="62.50" stroke="#1e1e1e" stroke-width="1" />
<line x1="610.20" y1="62.50" x2="607.20" y2="62.50" stroke="#1e1e1e" stroke-width="1" />
<line x1="323.00" y1="65.50" x2="326.00" y2="65.50" stroke="#1e1e1e" stroke-width="1" />
<line x1="610.20" y1="65.50" x2="607.20" y2="65.50" stroke="#1e1e1e" stroke-width="1" />
<line x1="323.00" y1="67.50" x2="326.00" y2="67.50" stroke="#1e1e1e" stroke-width="1" />
<line x1="610.20" y1="67.50" x2="607.20" y2="67.50" stroke="#1e1e1e" stroke-width="1" />
<line x1="323.00" y1="69.50" x2="329.00" y2="69.50" stroke="#1e1e1e" stroke-width="1" />
<line x1="610.20" y1="69.50" x2="604.20" y2="69.50" stroke="#1e1e1e" stroke-width="1" />
<line x1="323.00" y1="72.50" x2="326.00" y2="72.50" stroke="#1e1e1e" stroke-width="1" />
<line x1="610.20" y1="72.50" x2="607.20" y2="72.50" stroke="#1e1e1e" stroke-width="1" />
<line x1="323.00" y1="74.50" x2="326.00" y2="74.50" stroke="#1e1e1e" stroke-width="1" />
<line x1="610.20" y1="74.50" x2="607.20" y2="74.50" stroke="#1e1e1e" stroke-width="1" />
<line x1="323.00" y1="77.50" x2="326.00" y2="77.50" stroke="#1e1e1e" stroke-width="1" />
<line x1="610.20" y1="77.50" x2="607.20" y2="77.50" stroke="#1e1e1e" stroke-width="1" />
<line x1="323.00" y1="79.50" x2="326.00" y2="79.50" stroke="#1e1e1e" stroke-width="1" />
<line x1="610.20" y1="79.50" x2="607.20" y2="79.50" stroke="#1e1e1e" stroke-width="1" />
<line x1="323.00" y1="81.50" x2="329.00" y2="81.50" stroke="#1e1e1e" stroke-width="1" />
<line x1="610.20" y1="81.50" x2="604.20" y2="81.50" stroke="#1e1e1e" stroke-width="1" />
<line x1="323.00" y1="84.50" x2="326.00" y2="84.50" stroke="#1e1e1e" stroke-width="1" />
<line x1="610.20" y1="84.50" x2="607.20" y2="84.50" stroke="#1e1e1e" stroke-width="1" />
<line x1="323.00" y1="86.50" x2="326.00" y2="86.50" stroke="#1e1e1e" stroke-width="1" />
<line x1="610.20" y1="86.50" x2="607.20" y2="86.50" stroke="#1e1e1e" stroke-width="1" />
<line x1="323.00" y1="88.50" x2="326.00" y2="88.50" stroke="#1e1e1e" stroke-width="1" />
<line x1="610.20" y1="88.50" x2="607.20" y2="88.50" stroke="#1e1e1e" stroke-width="1" />
<line x1="323.00" y1="91.50" x2="326.00" y2="91.50" stroke="#1e1e1e" stroke-width="1" />
<line x1="610.20" y1="91.50" x2="607.20" y2="91.50" stroke="#1e1e1e" stroke-width="1" />
<line x1="323.00" y1="93.50" x2="329.00" y2="93.50" stroke="#1e1e1e" stroke-width="1" />
<line x1="610.20" y1="93.50" x2="604.20" y2="93.50" stroke="#1e1e1e" stroke-width="1" />
<line x1="323.00" y1="95.50" x2="326.00" y2="95.50" stroke="#1e1e1e" stroke-width="1" />
<line x1="610.20" y1="95.50" x2="607.20" y2="95.50" stroke="#1e1e1e" stroke-width="1" />
<line x1="323.00" y1="98.50" x2="326.00" y2="98.50" stroke="#1e1e1e" stroke-width="1" />
<line x1="610.20" y1="98.50" x2="607.20" y2="98.50" stroke="#1e1e1e" stroke-width="1" />
<line x1="323.00" y1="100.50" x2="326.00" y2="100.50" stroke="#1e1e1e" stroke-width="1" />
<line x1="610.20" y1="100.50" x2="607.20" y2="100.50" stroke="#1e1e1e" stroke-width="1" />
<line x1="323.00" y1="103.50" x2="326.00" y2="103.50" stroke="#1e1e1e" stroke-width="1" />
<line x1="610.20" y1="103.50" x2="607.20" y2="103.50" stroke="#1e1e1e" stroke-width="1" />
<line x1="323.00" y1="105.50" x2="329.00" y2="105.50" stroke="#1e1e1e" stroke-width="1" />
<line x1="610.20" y1="105.50" x2="604.20" y2="105.50" stroke="#1e1e1e" stroke-width="1" />
<line x1="323.00" y1="107.50" x2="326.00" y2="107.50" stroke="#1e1e1e" stroke-width="1" />
<line x1="610.20" y1="107.50" x2="607.20" y2="107.50" stroke="#1e1e1e" stroke-width="1" />
<line x1="323.00" y1="110.50" x2="326.00" y2="110.50" stroke="#1e1e1e" stroke-width="1" />
<line x1="610.20" y1="110.50" x2="607.20" y2="110.50" stroke="#1e1e1e" stroke-width="1" />
<line x1="323.00" y1="112.50" x2="326.00" y2="112.50" stroke="#1e1e1e" stroke-width="1" />
<line x1="610.20" y1="112.50" x2="607.20" y2="112.50" stroke="#1e1e1e" stroke-width="1" />
<line x1="323.00" y1="114.50" x2="326.00" y2="114.50" stroke="#1e1e1e" stroke-width="1" />
<line x1="610.20" y1="114.50" x2="607.20" y2="114.50" stroke="#1e1e1e" stroke-width="1" />
<line x1="323.00" y1="121.50" x2="326.00" y2="121.50" stroke="#1e1e1e" stroke-width="1" />
<line x1="610.20" y1="121.50" x2="607.20" y2="121.50" stroke="#1e1e1e" stroke-width="1" />
<line x1="323.00" y1="126.50" x2="326.00" y2="126.50" stroke="#1e1e1e" stroke-width="1" />
<line x1="610.20" y1="126.50" x2="607.20" y2="126.50" stroke="#1e1e1e" stroke-width="1" />
<line x1="323.00" y1="130.50" x2="326.00" y2="130.50" stroke="#1e1e1e" stroke-width="1" />
<line x1="610.20" y1="130.50" x2="607.20" y2="130.50" stroke="#1e1e1e" stroke-width="1" />
<line x1="323.00" y1="135.50" x2="329.00" y2="135.50" stroke="#1e1e1e" stroke-width="1" />
<line x1="610.20" y1="135.50" x2="604.20" y2="135.50" stroke="#1e1e1e" stroke-width="1" />
<line x1="323.00" y1="139.50" x2="326.00" y2="139.50" stroke="#1e1e1e" stroke-width="1" />
<line x1="610.20" y1="139.50" x2="607.20" y2="139.50" stroke="#1e1e1e" stroke-width="1" />
<line x1="323.00" y1="144.50" x2="326.00" y2="144.50" stroke="#1e1e1e" stroke-width="1" />
<line x1="610.20" y1="144.50" x2="607.20" y2="144.50" stroke="#1e1e1e" stroke-width="1" />
<line x1="323.00" y1="148.50" x2="326.00" y2="148.50" stroke="#1e1e1e" stroke-width="1" />
<line x1="610.20" y1="148.50" x2="607.20" y2="148.50" stroke="#1e1e1e" stroke-width="1" />
<line x1="323.00" y1="153.50" x2="329.00" y2="153.50" stroke="#1e1e1e" stroke-width="1" />
<line x1="610.20" y1="153.50" x2="604.20" y2="153.50" stroke="#1e1e1e" stroke-width="1" />
<line x1="323.00" y1="157.50" x2="326.00" y2="157.50" stroke="#1e1e1e" stroke-width="1" />
<line x1="610.20" y1="157.50" x2="607.20" y2="157.50" stroke="#1e1e1e" stroke-width="1" />
<line x1="323.00" y1="161.50" x2="326.00" y2="161.50" stroke="#1e1e1e" stroke-width="1" />
<line x1="610.20" y1="161.50" x2="607.20" y2="161.50" stroke="#1e1e1e" stroke-width="1" />
<line x1="323.00" y1="166.50" x2="326.00" y2="166.50" stroke="#1e1e1e" stroke-width="1" />
<line x1="610.20" y1="166.50" x2="607.20" y2="166.50" stroke="#1e1e1e" stroke-width="1" />
<line x1="323.00" y1="170.50" x2="329.00" y2="170.50" stroke="#1e1e1e" stroke-width="1" />
<line x1="610.20" y1="170.50" x2="604.20" y2="170.50" stroke="#1e1e1e" stroke-width="1" />
<line x1="323.00" y1="175.50" x2="326.00" y2="175.50" stroke="#1e1e1e" stroke-width="1" />
<line x1="610.20" y1="175.50" x2="607.20" y2="175.50" stroke="#1e1e1e" stroke-width="1" />
<line x1="323.00" y1="179.50" x2="326.00" y2="179.50" stroke="#1e1e1e" stroke-width="1" />
<line x1="610.20" y1="179.50" x2="607.20" y2="179.50" stroke="#1e1e1e" stroke-width="1" />
<line x1="323.00" y1="184.50" x2="326.00" y2="184.50" stroke="#1e1e1e" stroke-width="1" />
<line x1="610.20" y1="184.50" x2="607.20" y2="184.50" stroke="#1e1e1e" stroke-width="1" />
<line x1="323.00" y1="191.50" x2="326.00" y2="191.50" stroke="#1e1e1e" stroke-width="1" />
<line x1="610.20" y1="191.50" x2="607.20" y2="191.50" stroke="#1e1e1e" stroke-width="1" />
<line x1="323.00" y1="193.50" x2="326.00" y2="193.50" stroke="#1e1e1e" stroke-width="1" />
<line x1="610.20" y1="193.50" x2="607.20" y2="193.50" stroke="#1e1e1e" stroke-width="1" />
<line x1="323.00" y1="195.50" x2="326.00" y2="195.50" stroke="#1e1e1e" stroke-width="1" />
<line x1="610.20" y1="195.50" x2="607.20" y2="195.50" stroke="#1e1e1e" stroke-width="1" />
<line x1="323.00" y1="198.50" x2="326.00" y2="198.50" stroke="#1e1e1e" stroke-width="1" />
<line x1="610.20" y1="198.50" x2="607.20" y2="198.50" stroke="#1e1e1e" stroke-width="1" />
<line x1="323.00" y1="200.50" x2="329.00" y2="200.50" stroke="#1e1e1e" stroke-width="1" />
<line x1="610.20" y1="200.50" x2="604.20" y2="200.50" stroke="#1e1e1e" stroke-width="1" />
<line x1="323.00" y1="202.50" x2="326.00" y2="202.50" stroke="#1e1e1e" stroke-width="1" />
<line x1="610.20" y1="202.50" x2="607.20" y2="202.50" stroke="#1e1e1e" stroke-width="1" />
<line x1="323.00" y1="205.50" x2="326.00" y2="205.50" stroke="#1e1e1e" stroke-width="1" />
<line x1="610.20" y1="205.50" x2="607.20" y2="205.50" stroke="#1e1e1e" stroke-width="1" />
<line x1="323.00" y1="207.50" x2="326.00" y2="207.50" stroke="#1e1e1e" stroke-width="1" />
<line x1="610.20" y1="207.50" x2="607.20" y2="207.50" stroke="#1e1e1e" stroke-width="1" />
<line x1="323.00" y1="209.50" x2="326.00" y2="209.50" stroke="#1e1e1e" stroke-width="1" />
<line x1="610.20" y1="209.50" x2="607.20" y2="209.50" stroke="#1e1e1e" stroke-width="1" />
<line x1="323.00" y1="212.50" x2="329.00" y2="212.50" stroke="#1e1e1e" stroke-width="1" />
<line x1="610.20" y1="212.50" x2="604.20" y2="212.50" stroke="#1e1e1e" stroke-width="1" />
<line x1="323.00" y1="214.50" x2="326.00" y2="214.50" stroke="#1e1e1e" stroke-width="1" />
<line x1="610.20" y1="214.50" x2="607.20" y2="214.50" stroke="#1e1e1e" stroke-width="1" />
<line x1="323.00" y1="216.50" x2="326.00" y2="216.50" stroke="#1e1e1e" stroke-width="1" />
<line x1="610.20" y1="216.50" x2="607.20" y2="216.50" stroke="#1e1e1e" stroke-width="1" />
<line x1="323.00" y1="219.50" x2="326.00" y2="219.50" stroke="#1e1e1e" stroke-width="1" />
<line x1="610.20" y1="219.50" x2="607.20" y2="219.50" stroke="#1e1e1e" stroke-width="1" />
<line x1="323.00" y1="221.50" x2="326.00" y2="221.50" stroke="#1e1e1e" stroke-width="1" />
<line x1="610.20" y1="221.50" x2="607.20" y2="221.50" stroke="#1e1e1e" stroke-width="1" />
<line x1="323.00" y1="224.50" x2="329.00" y2="224.50" stroke="#1e1e1e" stroke-width="1" />
<line x1="610.20" y1="224.50" x2="604.20" y2="224.50" stroke="#1e1e1e" stroke-width="1" />
<line x1="323.00" y1="226.50" x2="326.00" y2="226.50" stroke="#1e1e1e" stroke-width="1" />
<line x1="610.20" y1="226.50" x2="607.20" y2="226.50" stroke="#1e1e1e" stroke-width="1" />
<line x1="323.00" y1="228.50" x2="326.00" y2="228.50" stroke="#1e1e1e" stroke-width="1" />
<line x1="610.20" y1="228.50" x2="607.20" y2="228.50" stroke="#1e1e1e" stroke-width="1" />
<line x1="323.00" y1="231.50" x2="326.00" y2="231.50" stroke="#1e1e1e" stroke-width="1" />
<line x1="610.20" y1="231.50" x2="607.20" y2="231.50" stroke="#1e1e1e" stroke-width="1" />
<line x1="323.00" y1="233.50" x2="326.00" y2="233.50" stroke="#1e1e1e" stroke-width="1" />
<line x1="610.20" y1="233.50" x2="607.20" y2="233.50" stroke="#1e1e1e" stroke-width="1" />
<line x1="323.00" y1="235.50" x2="329.00" y2="235.50" stroke="#1e1e1e" stroke-width="1" />
<line x1="610.20" y1="235.50" x2="604.20" y2="235.50" stroke="#1e1e1e" stroke-width="1" />
<line x1="323.00" y1="238.50" x2="326.00" y2="238.50" stroke="#1e1e1e" stroke-width="1" />
<line x1="610.20" y1="238.50" x2="607.20" y2="238.50" stroke="#1e1e1e" stroke-width="1" />
<line x1="323.00" y1="240.50" x2="326.00" y2="240.50" stroke="#1e1e1e" stroke-width="1" />
<line x1="610.20" y1="240.50" x2="607.20" y2="240.50" stroke="#1e1e1e" stroke-width="1" />
<line x1="323.00" y1="242.50" x2="326.00" y2="242.50" stroke="#1e1e1e" stroke-width="1" />
<line x1="610.20" y1="242.50" x2="607.20" y2="242.50" stroke="#1e1e1e" stroke-width="1" />
<line x1="323.00" y1="245.50" x2="326.00" y2="245.50" stroke="#1e1e1e" stroke-width="1" />
<line x1="610.20" y1="245.50" x2="607.20" y2="245.50" stroke="#1e1e1e" stroke-width="1" />
<line x1="323.00" y1="247.50" x2="329.00" y2="247.50" stroke="#1e1e1e" stroke-width="1" />
<line x1="610.20" y1="247.50" x2="604.20" y2="247.50" stroke="#1e1e1e" stroke-width="1" />
<line x1="323.00" y1="249.50" x2="326.00" y2="249.50" stroke="#1e1e1e" stroke-width="1" />
<line x1="610.20" y1="249.50" x2="607.20" y2="249.50" stroke="#1e1e1e" stroke-width="1" />
<line x1="323.00" y1="252.50" x2="326.00" y2="252.50" stroke="#1e1e1e" stroke-width="1" />
<line x1="610.20" y1="252.50" x2="607.20" y2="252.50" stroke="#1e1e1e" stroke-width="1" />
<line x1="323.00" y1="254.50" x2="326.00" y2="254.50" stroke="#1e1e1e" stroke-width="1" />
<line x1="610.20" y1="254.50" x2="607.20" y2="254.50" stroke="#1e1e1e" stroke-width="1" />
<line x1="323.00" y1="256.50" x2="326.00" y2="256.50" stroke="#1e1e1e" stroke-width="1" />
<line x1="610.20" y1="256.50" x2="607.20" y2="256.50" stroke="#1e1e1e" stroke-width="1" />
<line x1="323.00" y1="262.50" x2="326.00" y2="262.50" stroke="#1e1e1e" stroke-width="1" />
<line x1="610.20" y1="262.50" x2="607.20" y2="262.50" stroke="#1e1e1e" stroke-width="1" />
<line x1="323.00" y1="265.50" x2="326.00" y2="265.50" stroke="#1e1e1e" stroke-width="1" />
<line x1="610.20" y1="265.50" x2="607.20" y2="265.50" stroke="#1e1e1e" stroke-width="1" />
<line x1="323.00" y1="269.50" x2="326.00" y2="269.50" stroke="#1e1e1e" stroke-width="1" />
<line x1="610.20" y1="269.50" x2="607.20" y2="269.50" stroke="#1e1e1e" stroke-width="1" />
<line x1="323.00" y1="272.50" x2="329.00" y2="272.50" stroke="#1e1e1e" stroke-width="1" />
<line x1="610.20" y1="272.50" x2="604.20" y2="272.50" stroke="#1e1e1e" stroke-width="1" />
<line x1="323.00" y1="275.50" x2="326.00" y2="275.50" stroke="#1e1e1e" stroke-width="1" />
<line x1="610.20" y1="275.50" x2="607.20" y2="275.50" stroke="#1e1e1e" stroke-width="1" />
<line x1="323.00" y1="278.50" x2="326.00" y2="278.50" stroke="#1e1e1e" stroke-width="1" />
<line x1="610.20" y1="278.50" x2="607.20" y2="278.50" stroke="#1e1e1e" stroke-width="1" />
<line x1="323.00" y1="282.50" x2="326.00" y2="282.50" stroke="#1e1e1e" stroke-width="1" />
<line x1="610.20" y1="282.50" x2="607.20" y2="282.50" stroke="#1e1e1e" stroke-width="1" />
<line x1="323.00" y1="285.50" x2="329.00" y2="285.50" stroke="#1e1e1e" stroke-width="1" />
<line x1="610.20" y1="285.50" x2="604.20" y2="285.50" stroke="#1e1e1e" stroke-width="1" />
<line x1="323.00" y1="288.50" x2="326.00" y2="288.50" stroke="#1e1e1e" stroke-width="1" />
<line x1="610.20" y1="288.50" x2="607.20" y2="288.50" stroke="#1e1e1e" stroke-width="1" />
<line x1="323.00" y1="292.50" x2="326.00" y2="292.50" stroke="#1e1e1e" stroke-width="1" />
<line x1="610.20" y1="292.50" x2="607.20" y2="292.50" stroke="#1e1e1e" stroke-width="1" />
<line x1="323.00" y1="295.50" x2="326.00" y2="295.50" stroke="#1e1e1e" stroke-width="1" />
<line x1="610.20" y1="295.50" x2="607.20" y2="295.50" stroke="#1e1e1e" stroke-width="1" />
<line x1="323.00" y1="298.50" x2="329.00" y2="298.50" stroke="#1e1e1e" stroke-width="1" />
<line x1="610.20" y1="298.50" x2="604.20" y2="298.50" stroke="#1e1e1e" stroke-width="1" />
<line x1="323.00" y1="301.50" x2="326.00" y2="301.50" stroke="#1e1e1e" stroke-width="1" />
<line x1="610.20" y1="301.50" x2="607.20" y2="301.50" stroke="#1e1e1e" stroke-width="1" />
<line x1="323.00" y1="305.50" x2="326.00" y2="305.50" stroke="#1e1e1e" stroke-width="1" />
<line x1="610.20" y1="305.50" x2="607.20" y2="305.50" stroke="#1e1e1e" stroke-width="1" />
<line x1="323.00" y1="308.50" x2="326.00" y2="308.50" stroke="#1e1e1e" stroke-width="1" />
<line x1="610.20" y1="308.50" x2="607.20" y2="308.50" stroke="#1e1e1e" stroke-width="1" />
<line x1="30.80" y1="126.20" x2="604.00" y2="126.20" stroke="#555" stroke-width="1.4" stroke-dasharray="3.8,3.15"/>
<path d="M603,122.8 L608.8,126.2 L603,129.6 Z" fill="#111"/>
<line x1="30.80" y1="199.10" x2="610.00" y2="199.10" stroke="#222" stroke-width="1.1" stroke-dasharray="3.8,3.15"/>
<line x1="31.80" y1="272.30" x2="610.00" y2="272.30" stroke="#22a022" stroke-width="1.3" stroke-dasharray="3.8,3.15"/>
<polyline points="24.00,115.40 25.20,115.40 26.40,115.75 27.60,115.75 28.80,115.40 30.00,115.40 31.30,115.40 31.30,109.00 31.80,109.00 31.80,115.40 33.00,115.75 34.20,114.70 35.40,114.98 37.10,115.40 37.10,109.00 38.30,109.35 39.50,109.00 40.70,109.35 41.90,109.00 43.00,109.00 44.50,78.00 49.30,77.60 49.30,67.20 50.50,66.50 51.70,67.20 52.90,67.55 54.10,67.20 55.60,67.20 55.60,72.30 56.80,72.30 58.00,71.88 59.80,72.30 59.80,67.20 62.80,67.20 63.20,51.00 64.40,50.30 65.60,51.35 66.80,51.35 68.00,50.30 69.20,50.30 70.30,51.00 70.30,55.50 71.50,55.08 72.70,55.50 73.90,55.50 75.00,55.50 76.20,55.08 77.40,55.50 79.40,55.50 79.40,50.50 93.40,50.70 93.40,55.70 94.60,56.05 95.80,55.00 97.30,55.70 97.30,50.60 98.50,50.18 99.70,50.60 100.90,50.18 102.10,50.60 103.30,50.60 104.50,50.95 105.70,50.60 106.90,50.60 108.10,50.60 109.30,50.60 111.40,50.60 111.40,55.40 112.60,54.70 113.80,55.75 115.00,54.98 116.20,54.70 117.40,54.98 118.60,54.70 120.10,55.40 120.10,64.90 121.30,64.20 122.50,64.48 123.70,65.25 124.90,64.20 126.00,64.90 126.00,55.70 150.90,55.80 150.90,63.40 153.80,63.40 153.80,58.10 155.00,58.10 156.20,58.10 158.20,58.10 158.20,63.40 159.40,63.40 160.60,63.40 161.80,63.40 163.50,63.40 164.00,51.00 165.20,50.30 166.40,51.00 167.60,51.00 168.80,50.58 170.00,50.30 171.20,50.58 172.40,51.00 174.20,51.00 174.20,55.90 175.40,55.20 176.60,56.25 177.80,55.20 179.00,56.25 180.20,55.90 181.40,56.25 182.60,56.25 183.80,55.20 185.00,56.25 186.20,55.90 187.40,55.90 188.60,55.48 189.80,55.90 191.00,55.90 192.20,56.25 193.40,55.48 194.60,55.48 195.80,55.90 197.00,55.48 198.20,55.90 199.40,56.25 200.60,56.25 201.80,56.25 203.00,55.90 204.20,55.48 205.40,55.48 206.60,55.90 207.80,55.48 209.00,56.25 210.20,55.90 211.40,55.90 212.60,55.90 213.80,55.90 215.00,55.20 216.20,55.48 217.40,55.20 218.60,55.90 219.80,55.90 221.00,55.90 222.20,55.20 223.40,55.90 224.60,55.90 225.80,55.90 227.00,55.20 228.20,55.20 229.20,55.90 229.20,64.90 230.40,64.90 231.60,64.90 232.80,65.25 234.00,65.25 236.00,64.90 236.00,55.80 237.20,55.80 238.40,55.10 239.60,55.38 240.80,56.15 242.00,55.80 243.20,56.15 244.40,55.80 245.60,56.15 246.80,55.80 248.00,55.80 249.20,55.80 250.40,55.80 251.60,55.80 252.80,55.80 254.00,56.15 255.20,56.15 256.40,55.80 257.60,55.80 258.80,55.10 260.00,55.80 261.20,56.15 262.40,55.80 263.60,55.80 264.80,55.38 266.00,55.80 267.20,55.80 268.40,55.80 269.60,55.80 270.80,55.80 272.00,55.10 273.50,55.80 273.50,63.40 274.70,62.70 275.90,62.70 277.10,63.75 278.30,62.70 279.30,63.40 279.30,55.90 280.50,55.48 281.70,56.25 282.90,55.48 284.10,56.25 285.30,55.90 286.60,55.90 286.60,65.30 287.80,65.65 289.00,65.65 290.20,65.30 291.40,64.60 292.60,65.30 292.60,56.50 293.00,56.50 293.30,116.20" fill="none" stroke="#ff0a0a" stroke-width="1.8" stroke-linejoin="round" stroke-linecap="round" stroke-linejoin="miter" stroke-linecap="butt"/>
<line x1="145.00" y1="55.90" x2="145.00" y2="51.30" stroke="#ff0a0a" stroke-width="1.2" />
<line x1="149.40" y1="55.90" x2="149.40" y2="51.30" stroke="#ff0a0a" stroke-width="1.2" />
<line x1="178.50" y1="55.90" x2="178.50" y2="51.00" stroke="#ff0a0a" stroke-width="1.2" />
<line x1="133.00" y1="55.70" x2="133.00" y2="52.50" stroke="#ff0a0a" stroke-width="1.2" />
<line x1="115.50" y1="55.40" x2="115.50" y2="53.00" stroke="#ff0a0a" stroke-width="1.2" />
<line x1="82.00" y1="50.50" x2="82.00" y2="49.50" stroke="#ff0a0a" stroke-width="1.2" />
<polyline points="24.00,115.80 30.00,112.80 36.00,109.80 43.00,105.50 47.20,104.30 53.50,105.80 60.00,106.80 61.30,106.94 62.60,106.87 63.90,106.96 65.20,104.15 66.50,107.12 67.80,104.73 69.10,103.31 70.40,106.51 71.70,107.24 73.00,106.96 74.30,105.52 75.60,106.51 76.90,104.88 78.20,104.26 79.50,107.13 80.80,106.96 82.10,106.97 83.40,106.66 84.70,107.23 86.00,107.00 87.30,106.62 88.60,105.33 89.90,106.75 91.20,106.73 92.50,107.10 93.80,104.93 95.10,106.79 96.40,106.73 97.70,103.74 99.00,106.62 100.30,104.57 101.60,107.00 102.90,104.80 104.20,105.32 105.50,106.53 106.80,106.74 108.10,103.43 109.40,103.67 110.70,104.30 112.00,104.71 113.30,107.01 114.60,107.07 115.90,104.36 117.20,106.87 118.50,102.68 119.80,104.73 121.10,106.61 122.40,105.24 123.70,103.81 125.00,103.75 126.30,106.70 127.60,106.72 128.90,107.02 130.20,104.99 131.50,106.98 132.80,104.89 134.10,107.07 135.40,102.75 136.70,106.79 138.00,106.39 139.30,102.71 140.60,103.38 141.90,102.94 143.20,106.28 144.50,103.02 145.80,104.30 147.10,106.41 148.40,105.85 149.70,105.69 151.00,103.84 152.30,105.55 153.60,103.56 154.90,105.60 156.20,106.20 157.50,106.01 158.80,105.96 160.10,104.49 161.40,102.04 162.70,106.25 164.00,102.80 165.30,106.06 166.60,106.28 167.90,103.05 169.20,106.19 170.50,106.03 171.80,106.20 173.10,106.02 174.40,106.16 175.70,106.10 177.00,105.92 178.30,105.77 179.60,105.95 180.90,102.77 182.20,106.16 183.50,105.76 184.80,105.92 186.10,106.12 187.40,102.45 188.70,102.86 190.00,105.63 191.30,105.84 192.60,106.18 193.90,104.51 195.20,105.98 196.50,104.06 197.80,105.96 199.10,106.14 200.40,105.96 201.70,103.32 203.00,106.16 204.30,105.73 205.60,105.67 206.90,103.13 208.20,106.10 209.50,106.18 210.80,104.04 212.10,105.63 213.40,103.35 214.70,105.80 216.00,106.08 217.30,105.77 218.60,104.42 219.90,105.43 221.20,105.86 222.50,106.03 223.80,104.12 225.10,105.41 226.40,105.58 227.70,104.36 229.00,105.75 230.30,105.91 231.60,106.15 232.90,105.54 234.20,105.52 235.50,103.16 236.80,105.52 238.10,103.51 239.40,105.79 240.70,105.98 242.00,106.00 243.30,105.44 244.60,105.94 245.90,103.20 247.20,106.09 248.50,105.82 249.80,106.00 251.10,105.73 252.40,105.52 253.70,106.01 255.00,105.93 256.30,101.93 257.60,106.13 258.90,105.98 260.20,106.07 261.50,105.62 262.80,103.21 264.10,105.95 265.40,105.36 266.70,105.39 268.00,105.47 269.30,105.96 270.60,104.01 271.90,105.91 273.20,105.88 274.50,105.72 275.80,105.39 277.10,102.95 278.40,102.38 279.70,105.74 281.00,105.76 282.30,105.62 283.60,106.03 284.90,102.03 286.20,105.73 287.50,105.47 288.80,105.71 290.10,105.32 291.40,105.71 292.70,105.94 293.00,104.80 296.00,116.40" fill="none" stroke="#1414e6" stroke-width="1.15" stroke-linejoin="round" stroke-linecap="round" />
<polyline points="234.50,105.60 236.00,110.80 237.50,105.60" fill="none" stroke="#1414e6" stroke-width="1.1" stroke-linejoin="round" stroke-linecap="round" />
<polyline points="72.80,164.60 74.30,158.80 76.45,157.52 78.60,156.80 80.53,154.97 82.47,154.51 84.40,153.00 86.33,150.68 88.27,149.79 90.20,148.10 91.83,146.25 93.47,144.13 95.10,143.20 97.03,143.11 98.97,142.26 100.90,142.90 102.60,141.82 104.30,140.26 106.00,139.32 107.70,139.00 109.40,138.23 111.10,138.22 112.80,136.45 114.50,136.40 116.43,135.79 118.37,136.27 120.30,135.90 123.30,137.40 125.20,139.12 127.10,139.40 129.05,138.77 131.00,137.73 132.95,137.91 134.90,136.40 136.83,135.04 138.77,135.71 140.70,134.50 142.40,133.19 144.10,131.98 145.80,130.96 147.50,130.60 149.20,130.92 150.90,132.36 152.60,131.96 154.30,133.10 156.25,132.28 158.20,131.20 160.13,131.69 162.07,131.53 164.00,132.00 165.70,131.00 167.40,129.15 169.10,128.07 170.80,127.70 172.50,127.13 174.20,127.79 175.90,127.28 177.60,127.30 179.24,126.80 180.88,127.04 182.52,126.63 184.16,126.18 185.80,126.30 187.58,126.44 189.37,125.95 191.15,124.89 192.93,125.09 194.72,124.67 196.50,124.30 198.13,125.80 199.77,126.47 201.40,127.00 203.20,126.47 205.00,127.40 206.80,125.83 208.60,126.13 210.40,126.48 212.20,125.33 214.00,125.70 215.61,125.83 217.22,125.25 218.83,126.40 220.44,126.70 222.06,126.54 223.67,127.17 225.28,126.41 226.89,127.17 228.50,127.00 230.45,127.93 232.40,128.68 234.35,129.25 236.30,130.10 237.92,130.46 239.53,130.44 241.15,129.51 242.77,129.63 244.38,128.48 246.00,129.00 247.67,129.32 249.34,129.24 251.01,129.79 252.69,129.52 254.36,128.66 256.03,128.82 257.70,129.00 259.32,128.94 260.93,127.57 262.55,127.94 264.17,127.14 265.78,126.72 267.40,127.00 269.32,127.42 271.25,129.68 273.18,129.78 275.10,131.50 276.88,131.41 278.67,131.96 280.45,133.04 282.23,132.10 284.02,133.00 285.80,133.40 287.77,135.65 289.73,138.35 291.70,139.90" fill="none" stroke="#ff0a0a" stroke-width="3.3" stroke-linejoin="round" stroke-linecap="round" />
<polyline points="24.00,255.50 25.16,255.30 26.31,255.10 27.47,254.90 28.63,254.70 29.79,254.50 30.94,254.30 32.10,254.10 33.24,253.81 34.39,253.53 35.53,253.24 36.67,252.96 37.81,252.67 38.96,252.39 40.10,252.10 41.12,251.58 42.14,251.06 43.16,250.54 44.18,250.02 45.20,249.50 46.20,248.17 47.20,246.83 48.20,245.50 49.22,244.32 50.23,243.13 51.25,241.95 52.27,240.77 53.28,239.58 54.30,238.40 55.30,237.07 56.30,235.73 57.30,234.40 58.50,233.18 59.70,231.96 60.90,230.74 62.10,229.52 63.30,228.30 64.48,226.62 65.67,224.93 66.85,223.25 68.03,221.57 69.22,219.88 70.40,218.20 71.40,218.53 72.40,218.87 73.40,219.20 74.58,218.20 75.77,217.20 76.95,216.20 78.13,215.20 79.32,214.20 80.50,213.20 81.67,212.08 82.83,210.97 84.00,209.85 85.17,208.73 86.33,207.62 87.50,206.50 88.68,206.27 89.87,206.03 91.05,205.80 92.23,205.57 93.42,205.33 94.60,205.10 95.60,204.63 96.60,204.17 97.60,203.70 98.50,205.00 99.63,204.34 100.77,203.82 101.90,203.33 103.03,202.76 104.17,202.29 105.30,201.44 106.43,200.95 107.57,199.35 108.70,199.10 109.88,198.55 111.07,198.70 112.25,198.06 113.43,197.86 114.62,196.61 115.80,196.50 117.00,196.40 118.20,196.20 119.40,196.49 120.60,196.58 121.80,196.50 122.94,196.13 124.08,196.38 125.21,196.62 126.35,197.49 127.49,197.62 128.62,197.10 129.76,197.82 130.90,197.70 132.01,197.24 133.12,197.52 134.23,196.94 135.34,196.59 136.45,197.38 137.56,196.72 138.67,196.49 139.78,197.20 140.89,197.12 142.00,196.50 143.14,196.51 144.29,197.27 145.43,197.07 146.57,197.29 147.71,196.93 148.86,197.79 150.00,197.50 151.07,197.69 152.14,197.86 153.21,197.73 154.29,196.96 155.36,196.79 156.43,196.45 157.50,196.28 158.57,196.07 159.64,196.20 160.71,196.48 161.79,195.78 162.86,196.30 163.93,195.95 165.00,196.00 166.11,195.60 167.22,195.99 168.33,195.57 169.44,195.18 170.56,195.16 171.67,195.28 172.78,194.47 173.89,195.19 175.00,194.16 176.11,194.63 177.22,194.71 178.33,193.69 179.44,194.20 180.56,193.72 181.67,193.73 182.78,192.98 183.89,192.75 185.00,193.20 186.11,192.81 187.22,193.76 188.33,193.18 189.44,193.74 190.56,194.11 191.67,194.26 192.78,193.69 193.89,193.65 195.00,193.90 196.10,193.88 197.20,194.18 198.30,193.50 199.40,194.05 200.50,194.21 201.60,194.30 202.70,193.41 203.80,194.22 204.90,193.43 206.00,193.54 207.10,193.85 208.20,194.24 209.30,193.67 210.40,194.19 211.50,193.87 212.60,193.54 213.70,193.47 214.80,193.70 215.91,193.48 217.02,193.52 218.13,193.75 219.24,194.54 220.36,195.18 221.47,194.54 222.58,194.44 223.69,195.59 224.80,195.47 225.91,195.45 227.02,195.41 228.13,195.94 229.24,196.45 230.36,196.29 231.47,196.37 232.58,196.13 233.69,197.17 234.80,197.00 235.86,196.68 236.93,197.15 237.99,197.72 239.06,197.15 240.12,197.79 241.19,198.26 242.25,198.10 243.31,198.34 244.38,197.73 245.44,198.07 246.51,197.92 247.57,198.75 248.64,198.41 249.70,198.70 250.77,198.49 251.84,198.99 252.91,198.83 253.99,198.84 255.06,198.17 256.13,197.97 257.20,198.10 258.27,197.76 259.34,197.38 260.41,197.34 261.49,196.95 262.56,197.02 263.63,197.61 264.70,197.00 265.76,197.94 266.82,197.94 267.88,198.07 268.94,198.19 270.00,198.70 271.05,198.34 272.10,198.60 273.15,199.32 274.20,199.65 275.25,199.26 276.30,199.75 277.35,199.94 278.40,199.70 279.45,199.99 280.51,199.94 281.56,200.03 282.62,199.62 283.67,199.91 284.73,199.50 285.78,199.64 286.84,199.99 287.89,199.97 288.95,199.53 290.00,199.70 291.03,200.86 292.07,201.10 293.10,201.80 294.23,204.05 295.36,206.30 296.49,208.55 297.61,210.80 298.74,213.05 299.87,215.30 301.00,217.55 302.13,219.80 303.26,222.05 304.39,224.30 305.51,226.55 306.64,228.80 307.77,231.05 308.90,233.30 309.95,233.85 311.00,234.40" fill="none" stroke="#111" stroke-width="1.2" stroke-linejoin="round" stroke-linecap="round" />
<polyline points="24.00,297.80 25.21,297.56 26.43,297.32 27.64,297.09 28.85,296.85 30.06,296.61 31.28,296.38 32.49,296.14 33.70,295.90 34.93,295.64 36.15,295.37 37.38,295.11 38.61,294.85 39.84,294.58 41.06,294.32 42.29,294.05 43.52,293.79 44.75,293.53 45.97,293.26 47.20,293.00 48.46,292.53 49.71,292.06 50.97,291.59 52.23,291.11 53.49,290.64 54.74,290.17 56.00,289.70 56.80,288.20 57.50,289.40 58.73,288.93 59.97,288.47 61.20,287.86 62.43,287.72 63.67,286.94 64.90,286.66 66.13,285.94 67.37,285.48 68.60,285.20 69.90,285.26 71.20,284.85 72.50,284.80 73.71,284.48 74.92,284.07 76.14,283.69 77.35,283.34 78.56,282.83 79.78,282.74 80.99,282.09 82.20,281.90 83.44,281.53 84.67,281.24 85.91,281.15 87.15,281.07 88.38,281.16 89.62,280.80 90.85,280.43 92.09,280.27 93.33,280.46 94.56,279.92 95.80,279.90 97.04,279.78 98.27,279.57 99.51,279.55 100.75,279.29 101.98,279.30 103.22,279.10 104.45,279.03 105.69,279.03 106.93,278.78 108.16,278.39 109.40,278.40 110.64,278.10 111.87,278.47 113.11,278.33 114.35,278.11 115.58,278.40 116.82,278.28 118.05,278.29 119.29,278.34 120.53,278.04 121.76,277.95 123.00,278.00 124.24,278.24 125.47,278.01 126.71,278.31 127.95,278.12 129.18,278.41 130.42,278.55 131.65,278.77 132.89,278.83 134.13,278.73 135.36,278.60 136.60,278.80 137.68,278.43 138.76,278.43 139.84,278.31 140.92,277.94 142.00,278.00 143.20,278.12 144.40,278.02 145.60,278.07 146.80,277.84 148.00,277.77 149.20,277.63 150.40,277.74 151.60,277.73 152.80,277.79 154.00,277.78 155.20,277.99 156.40,278.08 157.60,277.74 158.80,277.73 160.00,277.80 161.21,277.57 162.42,277.74 163.64,277.92 164.85,277.55 166.06,277.70 167.27,277.48 168.48,277.24 169.70,277.51 170.91,277.36 172.12,277.19 173.33,277.25 174.55,277.13 175.76,277.16 176.97,277.15 178.18,277.11 179.39,277.15 180.61,276.98 181.82,276.80 183.03,276.72 184.24,276.67 185.45,276.84 186.67,276.77 187.88,276.95 189.09,276.82 190.30,276.86 191.52,276.97 192.73,276.52 193.94,276.33 195.15,276.31 196.36,276.39 197.58,276.48 198.79,276.56 200.00,276.40 201.19,276.42 202.38,276.74 203.57,276.39 204.76,276.74 205.95,276.57 207.14,276.90 208.33,276.61 209.52,277.03 210.71,277.10 211.90,277.27 213.10,277.16 214.29,276.96 215.48,277.34 216.67,277.23 217.86,277.06 219.05,277.31 220.24,277.37 221.43,277.41 222.62,277.31 223.81,277.30 225.00,277.60 226.19,277.55 227.38,277.53 228.57,277.35 229.76,277.43 230.95,277.59 232.14,277.62 233.33,277.49 234.52,277.40 235.71,277.35 236.90,277.25 238.10,277.19 239.29,277.28 240.48,277.13 241.67,277.38 242.86,277.43 244.05,277.39 245.24,277.06 246.43,277.13 247.62,277.16 248.81,276.99 250.00,277.20 251.18,277.36 252.36,277.36 253.54,277.23 254.72,277.28 255.90,277.04 257.09,276.97 258.27,277.10 259.45,277.23 260.63,277.22 261.81,276.89 262.99,277.09 264.17,277.29 265.35,277.26 266.53,277.34 267.71,277.38 268.90,277.01 270.08,276.92 271.26,277.02 272.44,277.25 273.62,277.01 274.80,277.00 275.98,277.28 277.15,277.36 278.33,277.26 279.51,277.32 280.68,277.55 281.86,277.57 283.04,277.38 284.21,277.63 285.39,277.43 286.56,277.49 287.74,277.85 288.92,277.94 290.09,277.74 291.27,277.71 292.45,277.91 293.62,278.12 294.80,278.00 296.03,278.68 297.27,279.33 298.50,279.79 299.73,280.35 300.97,280.67 302.20,281.20 303.45,281.70 304.70,282.20 305.95,282.70 307.20,283.20 308.45,283.70 309.70,284.20 311.00,284.40" fill="none" stroke="#1a961a" stroke-width="1.3" stroke-linejoin="round" stroke-linecap="round" />
<polyline points="346.30,116.30 346.30,87.90 353.90,87.20 354.50,81.60 356.00,81.60 356.30,75.00 362.10,74.60 362.10,60.40 364.60,60.40 364.60,51.80 365.80,51.80 367.00,51.80 368.20,51.80 370.30,51.80 370.30,57.60 371.50,63.90 373.40,63.90 373.40,51.00 416.20,51.20 416.20,59.20 417.40,58.78 418.60,58.50 419.80,58.50 421.00,59.20 422.20,59.20 424.00,59.20 424.00,51.20 425.20,51.20 426.40,51.20 427.60,50.50 428.80,51.55 430.00,51.20 431.20,51.20 432.40,51.20 433.60,51.55 434.80,51.55 436.00,51.20 437.20,51.20 438.40,51.20 439.60,51.20 440.80,51.20 442.70,51.20 442.70,59.20 445.30,59.20 445.30,51.20 446.50,51.20 447.70,51.20 448.90,50.78 450.10,51.20 451.30,51.20 452.50,51.20 453.70,51.20 454.90,51.20 456.10,51.20 457.30,50.78 458.50,50.78 459.70,51.20 460.90,51.20 462.10,51.55 463.30,51.20 464.50,50.78 465.70,50.50 466.90,51.55 468.10,51.20 469.30,51.20 470.50,51.20 472.50,51.20 472.50,59.20 474.50,59.20 474.50,51.20 527.80,51.30 527.80,55.20 529.00,54.50 530.20,55.20 531.40,55.20 532.60,55.55 533.80,55.20 535.00,55.20 536.20,55.20 537.40,55.55 538.60,54.78 539.80,55.20 541.60,55.20 541.60,64.60 543.90,64.60 543.90,55.80 545.10,56.15 546.30,55.80 547.50,55.10 548.70,55.10 549.90,56.15 551.10,55.80 552.40,55.80 552.40,68.50 554.30,68.50 554.30,57.70 556.00,57.70 556.00,60.00 557.00,55.00 559.20,55.00 559.20,69.50 560.40,68.80 561.60,68.80 562.80,69.50 564.00,69.50 565.20,69.50 567.00,69.50 567.00,79.90 568.20,79.90 569.40,79.90 571.40,79.90 571.40,103.80 572.60,103.80 573.80,103.80 575.00,103.10 576.20,103.38 577.40,103.80 578.60,104.15 579.80,103.80 579.80,100.80 580.20,100.80 580.20,108.30 581.40,108.65 582.60,107.88 583.80,107.60 585.00,107.88 586.20,108.30 587.40,108.30 588.60,107.88 589.80,108.30 591.00,108.30 592.20,107.60 593.40,108.30 594.60,107.88 595.80,107.88 597.00,107.60 598.20,108.30 599.40,108.30 600.60,108.30 601.80,107.60 603.00,107.88 604.20,108.65 605.40,108.30 606.60,107.88 607.80,108.65 610.00,108.30" fill="none" stroke="#ff0a0a" stroke-width="1.8" stroke-linejoin="round" stroke-linecap="round" stroke-linejoin="miter" stroke-linecap="butt"/>
<line x1="354.50" y1="81.60" x2="354.50" y2="79.50" stroke="#ff0a0a" stroke-width="1.2" />
<line x1="357.50" y1="75.00" x2="357.50" y2="71.50" stroke="#ff0a0a" stroke-width="1.2" />
<line x1="392.00" y1="51.20" x2="392.00" y2="50.00" stroke="#ff0a0a" stroke-width="1.2" />
<polyline points="366.00,116.60 376.00,109.50 384.80,104.30 385.90,104.85 387.00,104.65 388.10,105.38 389.20,103.14 390.30,104.24 391.40,104.13 392.50,106.26 393.60,106.88 394.70,104.47 395.80,104.45 396.90,103.05 398.00,103.79 399.10,105.58 400.20,106.55 401.30,105.19 402.40,104.07 403.50,103.18 404.60,104.58 405.70,106.29 406.80,103.71 407.90,105.41 409.00,102.97 410.10,102.81 411.20,102.88 412.30,104.75 413.40,103.94 414.50,103.79 415.60,104.80 416.70,103.09 417.80,104.99 418.90,103.23 420.00,104.16 421.10,103.45 422.20,102.99 423.30,104.16 424.40,104.19 425.50,103.96 426.60,104.03 427.70,104.52 428.80,103.21 429.90,102.93 431.00,104.54 432.10,105.13 433.20,104.91 434.30,106.11 435.40,105.58 436.50,106.37 437.60,104.15 438.70,105.41 439.80,106.12 440.90,106.74 442.00,104.61 443.10,103.86 444.20,106.03 445.30,103.97 446.40,106.37 447.50,106.77 448.60,103.90 449.70,103.31 450.80,105.06 451.90,103.80 453.00,102.71 454.10,105.27 455.20,104.52 456.30,105.73 457.40,103.50 458.50,103.83 459.60,105.07 460.70,102.84 461.80,102.79 462.90,104.69 464.00,106.28 465.10,107.06 466.20,103.92 467.30,104.39 468.40,105.56 469.50,104.95 470.60,105.46 471.70,103.66 472.80,102.55 473.90,102.31 475.00,101.95 476.10,103.88 477.20,104.41 478.30,104.81 479.40,103.26 480.50,102.87 481.60,102.81 482.70,105.33 483.80,106.82 484.90,107.08 486.00,103.85 487.10,102.59 488.20,105.70 489.30,104.83 490.40,105.74 491.50,104.31 492.60,104.37 493.70,104.58 494.80,104.31 495.90,104.90 497.00,102.76 498.10,104.76 499.20,106.03 500.30,103.83 501.40,104.15 502.50,105.40 503.60,104.50 504.70,103.35 505.80,102.82 506.90,104.03 508.00,102.46 509.10,105.42 510.20,106.10 511.30,105.94 512.40,106.51 513.50,105.79 514.60,104.63 515.70,105.01 516.80,104.76 517.90,106.59 519.00,106.51 520.10,104.30 521.20,106.14 522.30,106.12 523.40,106.24 524.50,106.43 525.60,104.86 526.70,106.28 527.80,106.71 528.90,106.12 530.00,106.20 531.10,106.22 532.20,104.79 533.30,105.56 534.40,103.22 535.50,103.48 536.60,104.08 537.70,102.46 538.80,103.27 539.90,104.69 541.00,105.13 542.10,103.71 543.20,106.07 544.30,105.78 545.40,104.36 546.50,105.16 547.60,105.07 548.70,104.90 549.80,104.26 550.90,106.48 552.00,105.83 553.10,105.83 554.20,106.08 555.30,107.04 556.40,103.54 557.50,104.69 558.60,105.59 559.70,103.97 560.80,103.99 561.90,102.59 563.00,102.68 564.10,103.43 565.20,102.58 566.30,102.90 567.40,105.63 568.50,105.16 569.60,104.83 570.70,106.55 571.80,105.55 575.00,105.50 580.00,107.60 584.00,107.90 587.00,106.80 610.00,106.80" fill="none" stroke="#1414e6" stroke-width="1.15" stroke-linejoin="round" stroke-linecap="round" />
<polyline points="344.90,187.80 346.77,187.56 348.65,186.88 350.52,185.20 352.40,184.80 354.07,183.63 355.73,182.51 357.40,182.31 359.07,181.40 360.73,179.07 362.40,178.60 364.05,176.42 365.70,174.84 367.35,173.17 369.00,171.91 370.65,170.41 372.30,168.60 373.97,165.94 375.63,163.24 377.30,161.62 378.97,159.26 380.63,157.29 382.30,154.90 384.18,152.50 386.05,148.95 387.93,145.55 389.80,142.40 391.68,140.71 393.55,138.93 395.43,136.06 397.30,134.90 399.18,134.19 401.05,132.65 402.93,131.45 404.80,129.50 406.47,128.48 408.13,126.33 409.80,125.00 411.87,123.84 413.93,122.37 416.00,122.00 418.07,123.61 420.13,124.10 422.20,126.20 424.13,125.94 426.07,126.60 428.00,127.50 429.84,127.06 431.68,127.44 433.52,127.08 435.36,127.10 437.20,128.00 438.90,126.82 440.60,126.11 442.30,125.91 444.00,125.50 445.77,124.32 447.53,125.27 449.30,124.43 451.07,123.27 452.83,123.02 454.60,123.00 456.48,122.66 458.36,122.58 460.24,122.10 462.12,123.16 464.00,122.50 465.88,123.59 467.75,123.05 469.62,123.37 471.50,123.70 473.38,126.46 475.25,129.91 477.12,133.72 479.00,137.40 480.85,136.72 482.70,137.33 484.55,135.96 486.40,136.20 488.30,136.49 490.20,139.02 492.10,139.40 494.00,140.40 495.85,138.96 497.70,138.72 499.55,137.02 501.40,136.90 503.05,137.47 504.70,138.72 506.35,139.06 508.00,139.00 509.75,138.81 511.50,137.62 513.25,137.29 515.00,137.00 517.13,135.93 519.27,136.37 521.40,135.40 523.25,136.60 525.10,138.15 526.95,138.58 528.80,140.00 530.67,141.41 532.55,144.20 534.42,146.33 536.30,147.40 538.17,150.59 540.05,153.14 541.92,155.78 543.80,157.90 545.47,157.68 547.13,156.26 548.80,156.10" fill="none" stroke="#ff0a0a" stroke-width="3.3" stroke-linejoin="round" stroke-linecap="round" />
<polyline points="323.00,254.60 324.10,254.60 325.21,254.60 326.31,254.60 327.42,254.60 328.52,254.60 329.63,254.60 330.73,254.60 331.84,254.60 332.94,254.60 334.05,254.60 335.15,254.60 336.26,254.60 337.36,254.60 338.47,254.60 339.57,254.60 340.68,254.60 341.78,254.60 342.89,254.60 343.99,254.60 345.10,254.60 346.20,254.60 347.30,253.29 348.40,251.99 349.50,250.68 350.60,249.38 351.70,248.07 352.80,246.76 353.90,245.46 355.00,244.15 356.10,242.85 357.20,241.54 358.30,240.24 359.40,238.93 360.50,237.62 361.60,236.32 362.70,235.01 363.80,233.71 364.90,232.40 366.01,231.57 367.11,230.73 368.22,229.90 369.32,229.07 370.43,228.23 371.53,227.40 372.64,226.57 373.74,225.73 374.85,224.90 375.96,224.07 377.06,223.23 378.17,222.40 379.27,221.57 380.38,221.09 381.48,220.36 382.59,219.14 383.69,217.96 384.80,217.40 385.91,216.06 387.02,216.09 388.13,215.31 389.24,214.95 390.36,213.86 391.47,213.57 392.58,212.37 393.69,212.21 394.80,211.20 396.03,210.71 397.27,209.50 398.50,208.70 399.75,209.39 401.00,210.00 402.00,209.47 403.00,208.16 404.00,207.72 405.00,207.33 406.00,206.20 407.12,205.86 408.24,206.26 409.36,206.10 410.48,206.15 411.60,205.45 412.72,204.91 413.84,205.55 414.96,205.58 416.08,205.05 417.20,204.90 418.34,204.24 419.47,204.09 420.61,204.45 421.75,203.97 422.88,204.53 424.02,204.07 425.15,203.37 426.29,203.64 427.43,203.20 428.56,203.66 429.70,203.00 430.80,204.09 431.90,204.14 433.00,204.50 434.12,204.55 435.25,204.48 436.37,204.48 437.49,204.57 438.62,203.33 439.74,203.36 440.86,203.54 441.99,203.10 443.11,203.24 444.24,202.55 445.36,203.24 446.48,202.84 447.61,202.15 448.73,202.55 449.85,202.09 450.98,201.74 452.10,202.00 453.18,202.05 454.26,201.85 455.35,202.02 456.43,202.97 457.51,203.08 458.59,202.40 459.67,203.31 460.75,202.70 461.84,203.08 462.92,203.97 464.00,203.70 465.00,203.09 466.00,201.83 467.00,201.00 468.00,200.17 469.00,199.50 470.00,199.32 471.00,200.60 472.00,199.97 473.00,200.52 474.00,201.00 475.00,202.13 476.00,202.68 477.00,204.19 478.00,204.50 479.00,203.56 480.00,203.00 481.00,204.29 482.00,205.08 483.00,205.57 484.00,206.00 485.00,206.16 486.00,205.29 487.00,205.28 488.00,204.50 489.20,205.78 490.40,206.29 491.60,207.01 492.80,208.10 494.00,208.70 495.10,208.52 496.20,207.95 497.30,208.53 498.40,207.98 499.50,208.04 500.60,208.31 501.70,207.53 502.80,207.10 503.90,207.04 505.00,207.50 506.12,207.62 507.25,207.58 508.38,207.55 509.50,207.88 510.62,208.61 511.75,208.05 512.88,208.23 514.00,208.50 515.08,208.54 516.15,207.94 517.23,207.10 518.30,206.87 519.38,206.52 520.45,205.74 521.52,205.55 522.60,205.40 523.70,205.89 524.80,207.26 525.90,207.58 527.00,208.50 528.14,208.26 529.29,208.30 530.43,207.93 531.57,206.88 532.71,206.62 533.86,205.91 535.00,205.70 536.00,206.47 537.00,207.52 538.00,208.50 539.16,210.12 540.32,211.65 541.48,212.21 542.64,213.00 543.80,214.90 544.83,214.23 545.87,213.36 546.90,212.77 547.93,213.16 548.97,212.06 550.00,212.00 551.27,213.14 552.53,213.80 553.80,214.90 554.93,215.52 556.05,215.66 557.18,214.83 558.31,214.92 559.44,215.94 560.56,215.83 561.69,215.68 562.82,216.17 563.95,216.41 565.07,216.16 566.20,216.20 567.27,217.06 568.34,217.49 569.41,218.59 570.49,219.26 571.56,220.68 572.63,221.65 573.70,222.40 574.77,223.24 575.84,224.89 576.91,226.13 577.99,227.37 579.06,228.61 580.13,229.86 581.20,231.10 582.31,231.93 583.42,232.77 584.53,233.60 585.64,234.43 586.76,235.27 587.87,236.10 588.98,236.93 590.09,237.77 591.20,238.60 592.31,238.79 593.42,238.98 594.53,239.17 595.64,239.36 596.76,239.54 597.87,239.73 598.98,239.92 600.09,240.11 601.20,240.30 602.30,240.30 603.40,240.30 604.50,240.30 605.60,240.30 606.70,240.30 607.80,240.30 608.90,240.30 610.00,240.30" fill="none" stroke="#111" stroke-width="1.2" stroke-linejoin="round" stroke-linecap="round" />
<polyline points="323.00,295.20 324.07,295.10 325.13,295.00 326.20,294.90 327.38,294.71 328.57,294.52 329.75,294.33 330.94,294.14 332.12,293.95 333.31,293.76 334.50,293.57 335.68,293.38 336.87,293.19 338.05,293.00 339.23,292.81 340.42,292.62 341.60,292.43 342.79,292.24 343.97,292.05 345.16,291.86 346.34,291.67 347.53,291.48 348.71,291.29 349.90,291.10 351.15,290.18 352.40,289.25 353.65,288.32 354.90,287.40 356.15,286.48 357.40,285.55 358.65,284.62 359.90,283.70 361.14,282.95 362.38,282.20 363.62,281.45 364.86,280.70 366.10,279.95 367.34,279.20 368.58,278.45 369.82,277.70 371.06,276.95 372.30,276.20 373.55,275.88 374.80,275.56 376.05,275.24 377.30,274.92 378.55,274.60 379.80,274.28 381.05,273.93 382.30,273.52 383.55,272.96 384.80,273.00 386.05,273.04 387.30,272.26 388.55,272.35 389.80,272.61 391.05,271.82 392.30,271.88 393.55,271.83 394.80,271.18 396.05,271.16 397.30,271.20 398.55,271.20 399.80,270.95 401.05,271.04 402.30,270.47 403.55,270.29 404.80,270.04 406.05,270.23 407.30,270.58 408.55,270.30 409.80,270.00 410.97,270.23 412.14,269.83 413.31,269.99 414.48,269.40 415.65,269.34 416.82,269.62 417.99,269.69 419.16,269.39 420.34,268.94 421.51,268.91 422.68,268.80 423.85,268.78 425.02,269.19 426.19,268.72 427.36,269.14 428.53,269.20 429.70,268.70 430.89,268.49 432.08,268.64 433.27,268.84 434.47,268.52 435.66,268.83 436.85,269.41 438.04,268.91 439.23,269.24 440.43,268.96 441.62,269.34 442.81,269.78 444.00,269.50 445.18,269.29 446.35,268.91 447.53,268.84 448.71,269.19 449.88,268.79 451.06,268.70 452.24,269.01 453.41,269.46 454.59,269.10 455.76,268.95 456.94,269.08 458.12,268.60 459.29,268.86 460.47,268.54 461.65,268.80 462.82,269.16 464.00,268.70 465.25,268.11 466.50,268.04 467.75,267.85 469.00,267.16 470.25,266.84 471.50,267.18 472.75,267.07 474.00,266.20 475.25,266.60 476.50,267.48 477.75,268.37 479.00,268.50 480.33,267.90 481.67,267.57 483.00,267.00 484.13,267.34 485.27,268.23 486.40,269.20 487.70,268.19 489.00,267.00 490.25,267.53 491.50,268.13 492.75,267.99 494.00,268.48 495.25,269.39 496.50,269.70 497.75,269.98 499.00,270.40 500.25,270.14 501.50,270.46 502.75,270.07 504.00,269.32 505.25,269.68 506.50,269.24 507.75,269.08 509.00,269.00 510.33,269.18 511.67,269.80 513.00,270.40 514.20,269.90 515.40,269.37 516.60,269.49 517.80,268.84 519.00,269.05 520.20,268.22 521.40,268.44 522.60,268.00 523.73,269.25 524.87,269.96 526.00,270.80 527.16,270.44 528.32,269.48 529.48,269.23 530.64,268.46 531.80,267.65 532.96,267.66 534.12,266.75 535.28,266.05 536.44,265.87 537.60,265.00 538.95,265.89 540.30,266.99 541.65,267.52 543.00,268.70 544.17,268.65 545.33,267.99 546.50,267.40 547.67,267.86 548.83,267.08 550.00,267.00 551.26,267.23 552.51,267.31 553.77,266.91 555.03,266.18 556.29,265.92 557.54,265.90 558.80,266.20 560.04,265.98 561.27,266.23 562.51,266.63 563.75,266.20 564.99,265.88 566.23,266.16 567.46,265.86 568.70,266.20 569.95,266.20 571.20,267.06 572.45,267.77 573.70,267.75 574.95,268.43 576.20,269.19 577.45,269.80 578.70,270.00 579.95,270.58 581.20,271.20 582.45,271.80 583.70,272.40 584.95,273.02 586.20,273.65 587.45,274.27 588.70,274.90 589.95,275.52 591.20,276.15 592.45,276.77 593.70,277.40 594.94,277.78 596.18,278.17 597.43,278.55 598.67,278.93 599.91,279.32 601.15,279.70 602.39,280.08 603.63,280.47 604.88,280.85 606.12,281.23 607.36,281.62 608.60,282.00" fill="none" stroke="#1a961a" stroke-width="1.3" stroke-linejoin="round" stroke-linecap="round" />
<text x="17.80" y="14.60" font-size="19.4" fill="#0a0af0" font-weight="bold" text-anchor="start" textLength="263.5" lengthAdjust="spacingAndGlyphs" >“Hybrid” scenario 2.2MA/2.8T</text>
<text x="319.70" y="14.60" font-size="19.4" fill="#0a0af0" font-weight="bold" text-anchor="start" textLength="277.5" lengthAdjust="spacingAndGlyphs" >“Baseline” scenario 3.0MA/2.8T</text>
<text x="43.64" y="37.50" font-size="19" fill="#000" font-weight="bold" text-anchor="start" >q</text>
<text x="80.33" y="37.50" font-size="19" fill="#000" font-weight="bold" text-anchor="start" >4</text>
<text x="90.75" y="37.50" font-size="19" fill="#000" font-weight="bold" text-anchor="start" >,</text>
<text x="98.54" y="37.50" font-size="19.5" fill="#000" font-weight="normal" text-anchor="start" >β</text>
<text x="109.82" y="40.60" font-size="12" fill="#000" font-weight="bold" text-anchor="start" >N</text>
<text x="161.16" y="37.50" font-size="19" fill="#000" font-weight="bold" text-anchor="start" >H</text>
<text x="175.62" y="40.20" font-size="11" fill="#000" font-weight="bold" text-anchor="start" >98</text>
<text x="217.24" y="37.50" font-size="19" fill="#000" font-weight="bold" text-anchor="start" >=1.3</text>
<text x="54.90" y="40.40" font-size="11.5" fill="#000" font-weight="bold" text-anchor="start" textLength="13.6" lengthAdjust="spacingAndGlyphs" >95</text>
<text x="367.10" y="40.40" font-size="11.5" fill="#000" font-weight="bold" text-anchor="start" textLength="13.6" lengthAdjust="spacingAndGlyphs" >95</text>
<text x="131.83" y="37.50" font-size="19" fill="#000" font-weight="bold" text-anchor="start" textLength="24.6" lengthAdjust="spacingAndGlyphs" >2-3</text>
<text x="187.72" y="37.50" font-size="13.5" fill="#000" font-weight="bold" text-anchor="start" textLength="29.5" lengthAdjust="spacingAndGlyphs" >(y,2)</text>
<text x="355.74" y="37.50" font-size="19" fill="#000" font-weight="bold" text-anchor="start" >q</text>
<text x="393.22" y="37.50" font-size="19" fill="#000" font-weight="bold" text-anchor="start" >3</text>
<text x="402.95" y="37.50" font-size="19" fill="#000" font-weight="bold" text-anchor="start" >,</text>
<text x="411.24" y="37.50" font-size="19.5" fill="#000" font-weight="normal" text-anchor="start" >β</text>
<text x="423.42" y="40.60" font-size="12" fill="#000" font-weight="bold" text-anchor="start" >N</text>
<text x="471.26" y="37.50" font-size="20.5" fill="#000" font-weight="normal" text-anchor="start" stroke="#000" stroke-width="0.55">H</text>
<text x="485.48" y="40.20" font-size="11.5" fill="#000" font-weight="normal" text-anchor="start" stroke="#000" stroke-width="0.55">98</text>
<text x="528.10" y="37.50" font-size="20" fill="#000" font-weight="normal" text-anchor="start" stroke="#000" stroke-width="0.55">=</text>
<text x="445.81" y="37.50" font-size="18.5" fill="#000" font-weight="normal" text-anchor="start" textLength="23.7" lengthAdjust="spacingAndGlyphs" stroke="#000" stroke-width="0.55">1.8</text>
<text x="540.11" y="37.50" font-size="18.5" fill="#000" font-weight="normal" text-anchor="start" textLength="24.7" lengthAdjust="spacingAndGlyphs" stroke="#000" stroke-width="0.55">1.1</text>
<text x="497.56" y="37.50" font-size="14" fill="#000" font-weight="normal" text-anchor="start" textLength="30.5" lengthAdjust="spacingAndGlyphs" stroke="#000" stroke-width="0.45">(y,2)</text>
<text x="68.17" y="37.50" font-size="19" fill="#000" font-weight="bold" text-anchor="start" textLength="13.53" lengthAdjust="spacingAndGlyphs" >~</text>
<text x="120.76" y="37.50" font-size="19" fill="#000" font-weight="bold" text-anchor="start" textLength="10.87" lengthAdjust="spacingAndGlyphs" >~</text>
<text x="381.07" y="37.50" font-size="19" fill="#000" font-weight="bold" text-anchor="start" textLength="13.53" lengthAdjust="spacingAndGlyphs" >~</text>
<text x="431.92" y="37.50" font-size="19" fill="#000" font-weight="bold" text-anchor="start" textLength="14.34" lengthAdjust="spacingAndGlyphs" >~</text>
<text x="20.80" y="55.20" font-size="13" fill="#000" font-weight="bold" text-anchor="end" >3 0</text>
<text x="20.80" y="74.60" font-size="13" fill="#000" font-weight="bold" text-anchor="end" >2 0</text>
<text x="20.80" y="98.30" font-size="13" fill="#000" font-weight="bold" text-anchor="end" >1 0</text>
<text x="20.80" y="116.70" font-size="13" fill="#000" font-weight="bold" text-anchor="end" >0.0</text>
<text x="20.80" y="139.10" font-size="13" fill="#000" font-weight="bold" text-anchor="end" >6.0</text>
<text x="20.80" y="157.10" font-size="13" fill="#000" font-weight="bold" text-anchor="end" >4.0</text>
<text x="20.80" y="174.60" font-size="13" fill="#000" font-weight="bold" text-anchor="end" >2.0</text>
<text x="20.80" y="188.30" font-size="13" fill="#000" font-weight="bold" text-anchor="end" >0.0</text>
<text x="20.80" y="203.90" font-size="13" fill="#000" font-weight="bold" text-anchor="end" >2.5</text>
<text x="20.80" y="227.10" font-size="13" fill="#000" font-weight="bold" text-anchor="end" >1.5</text>
<text x="20.80" y="251.50" font-size="13" fill="#000" font-weight="bold" text-anchor="end" >0.5</text>
<text x="20.80" y="277.10" font-size="13" fill="#000" font-weight="bold" text-anchor="end" >6.0</text>
<text x="20.80" y="290.10" font-size="13" fill="#000" font-weight="bold" text-anchor="end" >4.0</text>
<text x="20.80" y="303.30" font-size="13" fill="#000" font-weight="bold" text-anchor="end" >2.0</text>
<text x="20.80" y="315.50" font-size="13" fill="#000" font-weight="bold" text-anchor="end" >0.0</text>
<text x="27.50" y="327.90" font-size="13" fill="#000" font-weight="bold" text-anchor="middle" >6.0</text>
<text x="75.40" y="327.90" font-size="13" fill="#000" font-weight="bold" text-anchor="middle" >6.5</text>
<text x="123.70" y="327.90" font-size="13" fill="#000" font-weight="bold" text-anchor="middle" >7.0</text>
<text x="171.30" y="327.90" font-size="13" fill="#000" font-weight="bold" text-anchor="middle" >7.5</text>
<text x="219.50" y="327.90" font-size="13" fill="#000" font-weight="bold" text-anchor="middle" >8.0</text>
<text x="267.40" y="327.90" font-size="13" fill="#000" font-weight="bold" text-anchor="middle" >8.5</text>
<text x="323.90" y="327.90" font-size="13" fill="#000" font-weight="bold" text-anchor="middle" >7</text>
<text x="364.60" y="327.90" font-size="13" fill="#000" font-weight="bold" text-anchor="middle" >8</text>
<text x="405.50" y="327.90" font-size="13" fill="#000" font-weight="bold" text-anchor="middle" >9</text>
<text x="444.90" y="327.90" font-size="13" fill="#000" font-weight="bold" text-anchor="middle" >10</text>
<text x="485.00" y="327.90" font-size="13" fill="#000" font-weight="bold" text-anchor="middle" >11</text>
<text x="526.10" y="327.90" font-size="13" fill="#000" font-weight="bold" text-anchor="middle" >12</text>
<text x="567.50" y="327.90" font-size="13" fill="#000" font-weight="bold" text-anchor="middle" >13</text>
<text x="608.10" y="327.90" font-size="13" fill="#000" font-weight="bold" text-anchor="middle" >14</text>
<text x="138.00" y="348.60" font-size="15" fill="#000" font-weight="bold" text-anchor="start" textLength="55" lengthAdjust="spacingAndGlyphs" >Time (s)</text>
<text x="420.50" y="348.60" font-size="15" fill="#000" font-weight="bold" text-anchor="start" textLength="55" lengthAdjust="spacingAndGlyphs" >Time (s)</text>
<text x="67.30" y="78.20" font-size="12" fill="#ff0a0a" font-weight="bold" text-anchor="start" textLength="63" lengthAdjust="spacingAndGlyphs" >PNBI (MW)</text>
<text x="371.80" y="78.70" font-size="12" fill="#ff0a0a" font-weight="bold" text-anchor="start" textLength="62.5" lengthAdjust="spacingAndGlyphs" >PNBI (MW)</text>
<text x="196.60" y="94.50" font-size="12" fill="#1a1ad8" font-weight="bold" text-anchor="start" >P</text>
<text x="203.60" y="96.70" font-size="8.5" fill="#1a1ad8" font-weight="bold" text-anchor="start" >ICRH</text>
<text x="227.70" y="94.50" font-size="12" fill="#1a1ad8" font-weight="bold" text-anchor="start" >(MW)</text>
<text x="481.50" y="95.40" font-size="12" fill="#1a1ad8" font-weight="bold" text-anchor="start" >P</text>
<text x="488.50" y="97.60" font-size="8.5" fill="#1a1ad8" font-weight="bold" text-anchor="start" >ICRH</text>
<text x="513.20" y="95.40" font-size="12" fill="#1a1ad8" font-weight="bold" text-anchor="start" >(MW)</text>
<text x="166.80" y="159.30" font-size="12" fill="#c00808" font-weight="bold" text-anchor="start" >P</text>
<text x="173.40" y="161.00" font-size="8" fill="#c00808" font-weight="bold" text-anchor="start" >FUS</text>
<text x="192.30" y="159.30" font-size="12" fill="#c00808" font-weight="bold" text-anchor="start" textLength="34.5" lengthAdjust="spacingAndGlyphs" >(MW)</text>
<text x="126.80" y="176.60" font-size="12.5" fill="#c00808" font-weight="bold" text-anchor="start" textLength="141" lengthAdjust="spacingAndGlyphs" >30-35% thermo-nuclear</text>
<text x="443.20" y="161.50" font-size="12" fill="#c00808" font-weight="bold" text-anchor="start" >P</text>
<text x="450.50" y="163.20" font-size="8" fill="#c00808" font-weight="bold" text-anchor="start" >FUS</text>
<text x="468.70" y="161.50" font-size="12" fill="#c00808" font-weight="bold" text-anchor="start" textLength="34.5" lengthAdjust="spacingAndGlyphs" >(MW)</text>
<text x="408.70" y="177.70" font-size="12.5" fill="#c00808" font-weight="bold" text-anchor="start" textLength="129.5" lengthAdjust="spacingAndGlyphs" >~60% thermo-nuclear</text>
<text x="169.50" y="231.20" font-size="18.5" fill="#111" font-weight="normal" text-anchor="start" >β</text>
<text x="181.00" y="234.50" font-size="11.6" fill="#111" font-weight="bold" text-anchor="start" >N</text>
<text x="474.60" y="238.50" font-size="18.5" fill="#111" font-weight="normal" text-anchor="start" >β</text>
<text x="486.50" y="241.50" font-size="11.6" fill="#111" font-weight="bold" text-anchor="start" >N</text>
<text x="88.2" y="307.8" font-size="12.35" fill="#159415" font-weight="bold"><tspan>Line integrated density (10</tspan><tspan font-size="8.5" dy="-4.8">19</tspan><tspan dy="4.8">m</tspan><tspan font-size="8.5" dy="-4.8">-2</tspan><tspan dy="4.8">)</tspan></text>
<text x="391.5" y="306.0" font-size="12.35" fill="#159415" font-weight="bold"><tspan>Line integrated density (10</tspan><tspan font-size="8.5" dy="-4.8">19</tspan><tspan dy="4.8">m</tspan><tspan font-size="8.5" dy="-4.8">-2</tspan><tspan dy="4.8">)</tspan></text>
</svg></body></html>
